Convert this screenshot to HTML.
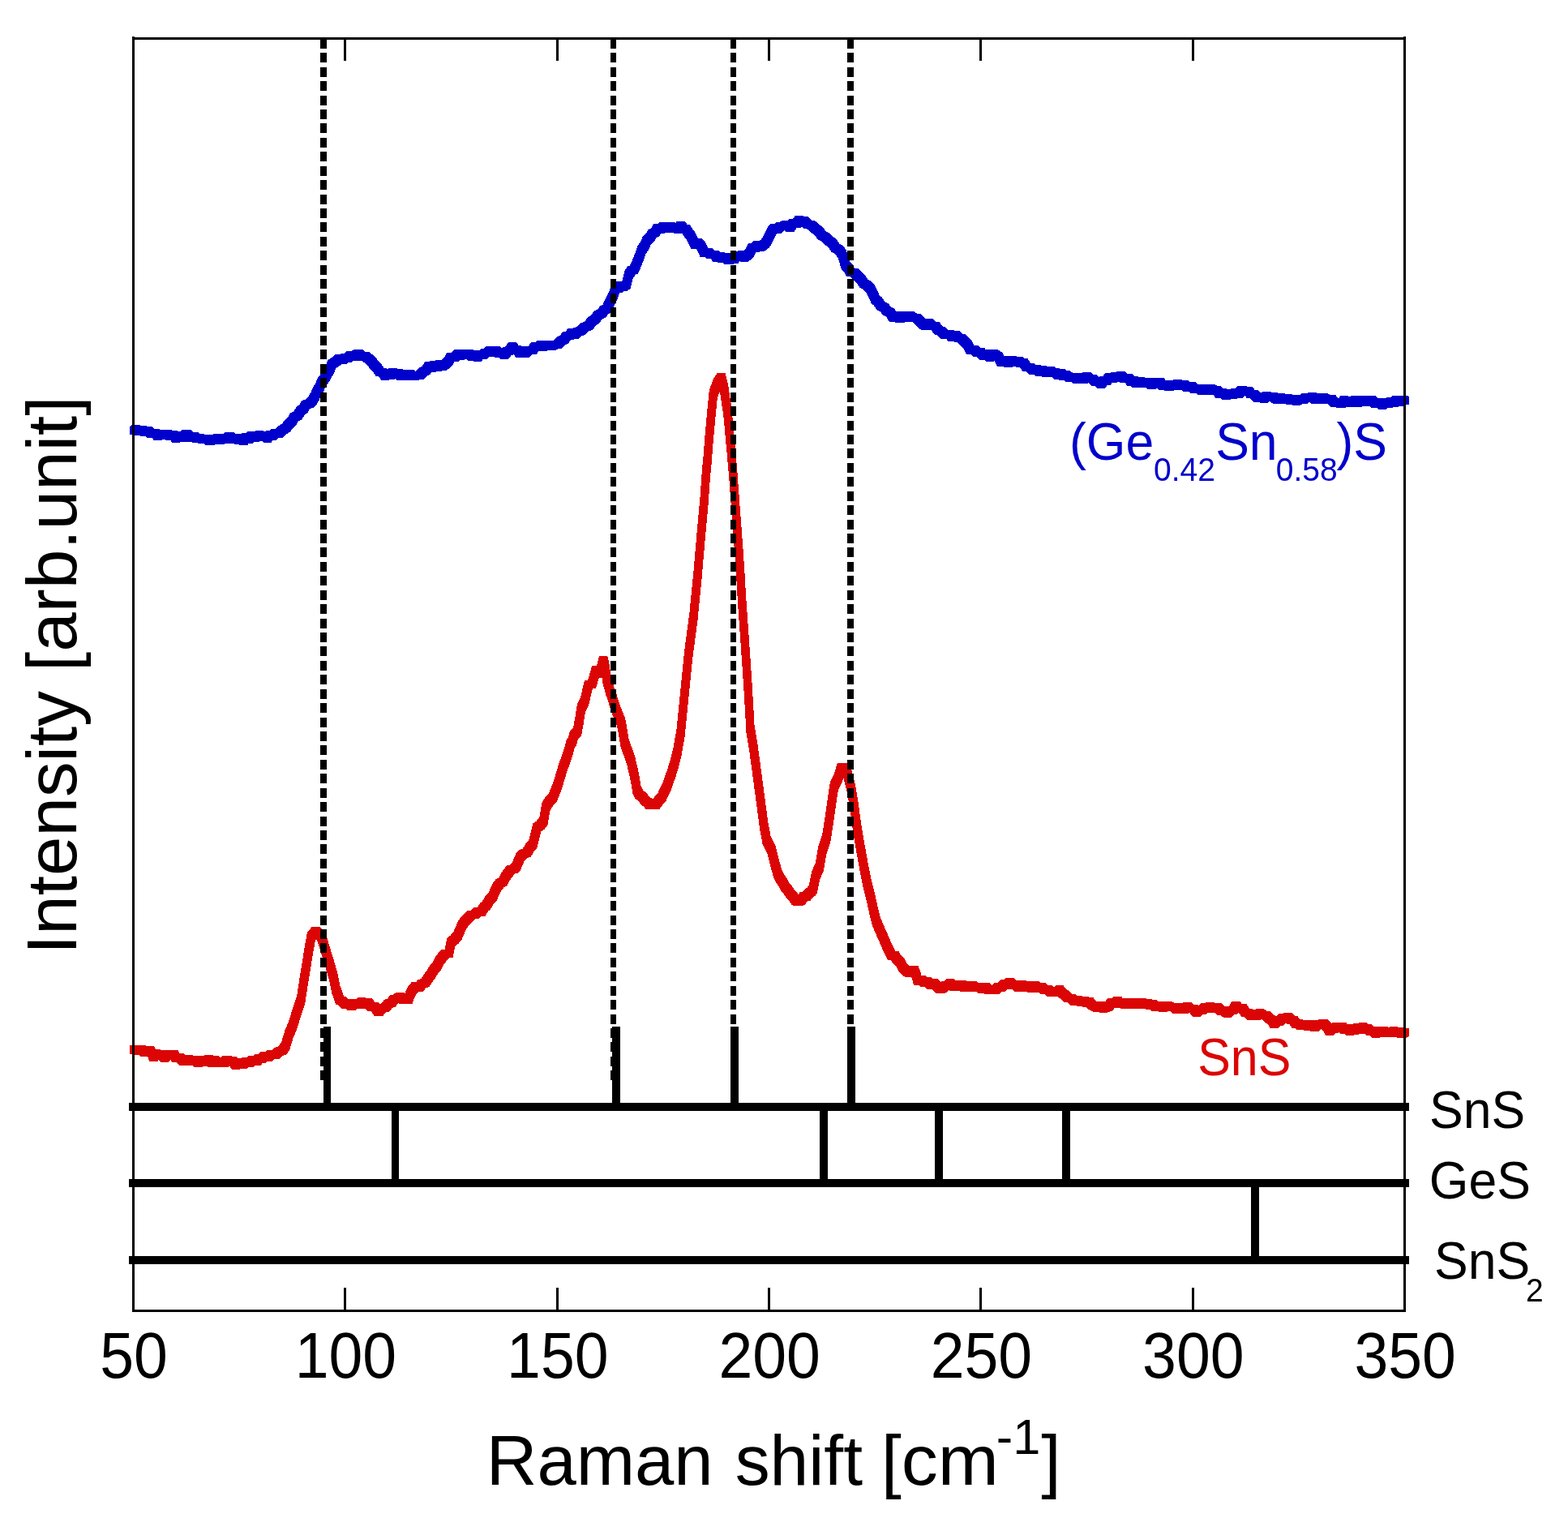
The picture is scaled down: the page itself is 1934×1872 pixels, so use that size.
<!DOCTYPE html>
<html lang="en"><head><meta charset="utf-8"><title>Raman spectra of SnS and (Ge,Sn)S</title>
<style>
html,body{margin:0;padding:0;background:#fff;}
body{width:1934px;height:1872px;overflow:hidden;}
svg{display:block;}
text{font-family:"Liberation Sans",sans-serif;}
</style></head><body>
<svg width="1934" height="1872" viewBox="0 0 1934 1872">
<rect x="0" y="0" width="1934" height="1872" fill="#fff"/>
<g shape-rendering="crispEdges">
<path d="M159.5 536.2L159.5 526.2L162.7 524.1L172.7 524.1L172.7 534.1L169.5 536.2ZM162.7 524.1L172.7 524.1L175.8 527.4L175.8 537.4L165.8 537.4L162.7 534.1ZM165.8 537.4L165.8 527.4L169.6 524.5L179.6 524.5L179.6 534.5L175.8 537.4ZM169.6 524.5L179.6 524.5L183.3 528.3L183.3 538.3L173.3 538.3L169.6 534.5ZM173.3 538.3L173.3 528.3L177.1 525.9L187.1 525.9L187.1 535.9L183.3 538.3ZM177.1 525.9L187.1 525.9L191.9 530.2L191.9 540.2L181.9 540.2L177.1 535.9ZM181.9 540.2L181.9 530.2L186.7 529.3L196.7 529.3L196.7 539.3L191.9 540.2ZM186.7 529.3L196.7 529.3L199.9 533.0L199.9 543.0L189.9 543.0L186.7 539.3ZM189.9 543.0L189.9 533.0L193.1 529.7L203.1 529.7L203.1 539.7L199.9 543.0ZM193.1 529.7L203.1 529.7L207.1 532.4L207.1 542.4L197.1 542.4L193.1 539.7ZM197.1 542.4L197.1 532.4L201.1 529.6L211.1 529.6L211.1 539.6L207.1 542.4ZM201.1 529.6L211.1 529.6L214.8 532.9L214.8 542.9L204.8 542.9L201.1 539.6ZM204.8 542.9L204.8 532.9L208.6 531.0L218.6 531.0L218.6 541.0L214.8 542.9ZM208.6 531.0L218.6 531.0L222.3 535.6L222.3 545.6L212.3 545.6L208.6 541.0ZM212.3 545.6L212.3 535.6L216.6 532.1L226.6 532.1L226.6 542.1L222.3 545.6ZM216.6 532.1L226.6 532.1L230.8 534.6L230.8 544.6L220.8 544.6L216.6 542.1ZM220.8 544.6L220.8 534.6L225.1 529.7L235.1 529.7L235.1 539.7L230.8 544.6ZM225.1 529.7L235.1 529.7L239.9 534.9L239.9 544.9L229.9 544.9L225.1 539.7ZM229.9 544.9L229.9 534.9L234.7 533.2L244.7 533.2L244.7 543.2L239.9 544.9ZM234.7 533.2L244.7 533.2L247.9 536.3L247.9 546.3L237.9 546.3L234.7 543.2ZM237.9 546.3L237.9 536.3L241.2 534.5L251.2 534.5L251.2 544.5L247.9 546.3ZM241.2 534.5L251.2 534.5L254.4 537.2L254.4 547.2L244.4 547.2L241.2 544.5ZM244.4 547.2L244.4 537.2L249.2 535.9L259.2 535.9L259.2 545.9L254.4 547.2ZM249.2 535.9L259.2 535.9L264.0 539.2L264.0 549.2L254.0 549.2L249.2 545.9ZM254.0 549.2L254.0 539.2L257.2 536.1L267.2 536.1L267.2 546.1L264.0 549.2ZM257.2 536.1L267.2 536.1L270.4 537.5L270.4 547.5L260.4 547.5L257.2 546.1ZM260.4 547.5L260.4 537.5L263.6 534.9L273.6 534.9L273.6 544.9L270.4 547.5ZM263.6 534.9L273.6 534.9L276.8 538.0L276.8 548.0L266.8 548.0L263.6 544.9ZM266.8 548.0L266.8 538.0L270.0 534.6L280.0 534.6L280.0 544.6L276.8 548.0ZM270.0 534.6L280.0 534.6L284.0 536.8L284.0 546.8L274.0 546.8L270.0 544.6ZM274.0 546.8L274.0 536.8L278.0 532.5L288.0 532.5L288.0 542.5L284.0 546.8ZM278.0 532.5L288.0 532.5L292.0 536.8L292.0 546.8L282.0 546.8L278.0 542.5ZM282.0 546.8L282.0 536.8L286.0 534.7L296.0 534.7L296.0 544.7L292.0 546.8ZM286.0 534.7L296.0 534.7L299.2 538.0L299.2 548.0L289.2 548.0L286.0 544.7ZM289.2 548.0L289.2 538.0L292.4 535.2L302.4 535.2L302.4 545.2L299.2 548.0ZM292.4 535.2L302.4 535.2L305.6 538.6L305.6 548.6L295.6 548.6L292.4 545.2ZM295.6 548.6L295.6 538.6L298.8 533.6L308.8 533.6L308.8 543.6L305.6 548.6ZM298.8 533.6L308.8 533.6L312.1 536.8L312.1 546.8L302.1 546.8L298.8 543.6ZM302.1 546.8L302.1 536.8L305.3 532.3L315.3 532.3L315.3 542.3L312.1 546.8ZM305.3 532.3L315.3 532.3L320.1 534.6L320.1 544.6L310.1 544.6L305.3 542.3ZM310.1 544.6L310.1 534.6L314.9 531.3L324.9 531.3L324.9 541.3L320.1 544.6ZM314.9 531.3L324.9 531.3L328.1 534.2L328.1 544.2L318.1 544.2L314.9 541.3ZM318.1 544.2L318.1 534.2L321.3 532.3L331.3 532.3L331.3 542.3L328.1 544.2ZM321.3 532.3L331.3 532.3L334.5 535.5L334.5 545.5L324.5 545.5L321.3 542.3ZM324.5 545.5L324.5 535.5L327.7 531.3L337.7 531.3L337.7 541.3L334.5 545.5ZM327.7 531.3L337.7 531.3L340.9 533.1L340.9 543.1L330.9 543.1L327.7 541.3ZM330.9 543.1L330.9 533.1L334.1 528.9L344.1 528.9L344.1 538.9L340.9 543.1ZM334.1 528.9L344.1 528.9L348.9 530.0L348.9 540.0L338.9 540.0L334.1 538.9ZM338.9 540.0L338.9 530.0L343.7 525.1L353.7 525.1L353.7 535.1L348.9 540.0ZM343.7 535.1L343.7 525.1L347.7 522.6L357.7 522.6L357.7 532.6L353.7 535.1ZM347.7 532.6L347.7 522.6L351.7 517.6L361.7 517.6L361.7 527.6L357.7 532.6ZM351.7 527.6L351.7 517.6L354.9 514.9L364.9 514.9L364.9 524.9L361.7 527.6ZM354.9 524.9L354.9 514.9L358.1 509.3L368.1 509.3L368.1 519.3L364.9 524.9ZM358.1 519.3L358.1 509.3L362.1 507.2L372.1 507.2L372.1 517.2L368.1 519.3ZM362.1 517.2L362.1 507.2L366.2 501.5L376.2 501.5L376.2 511.5L372.1 517.2ZM366.2 511.5L366.2 501.5L369.4 498.9L379.4 498.9L379.4 508.9L376.2 511.5ZM369.4 508.9L369.4 498.9L372.6 493.6L382.6 493.6L382.6 503.6L379.4 508.9ZM372.6 503.6L372.6 493.6L376.6 493.3L386.6 493.3L386.6 503.3L382.6 503.6ZM376.6 503.3L376.6 493.3L380.6 488.9L390.6 488.9L390.6 498.9L386.6 503.3ZM380.6 498.9L380.6 488.9L383.8 483.0L393.8 483.0L393.8 493.0L390.6 498.9ZM383.8 493.0L383.8 483.0L387.0 476.1L397.0 476.1L397.0 486.1L393.8 493.0ZM387.0 486.1L387.0 476.1L389.4 472.0L399.4 472.0L399.4 482.0L397.0 486.1ZM389.4 482.0L389.4 472.0L391.8 466.2L401.8 466.2L401.8 476.2L399.4 482.0ZM391.8 476.2L391.8 466.2L395.0 462.3L405.0 462.3L405.0 472.3L401.8 476.2ZM395.0 472.3L395.0 462.3L398.2 456.9L408.2 456.9L408.2 466.9L405.0 472.3ZM398.2 466.9L398.2 456.9L401.4 451.0L411.4 451.0L411.4 461.0L408.2 466.9ZM401.4 461.0L401.4 451.0L404.6 444.0L414.6 444.0L414.6 454.0L411.4 461.0ZM404.6 454.0L404.6 444.0L409.4 440.8L419.4 440.8L419.4 450.8L414.6 454.0ZM409.4 450.8L409.4 440.8L413.4 437.2L423.4 437.2L423.4 447.2L419.4 450.8ZM413.4 437.2L423.4 437.2L427.4 439.4L427.4 449.4L417.4 449.4L413.4 447.2ZM417.4 449.4L417.4 439.4L420.6 435.5L430.6 435.5L430.6 445.5L427.4 449.4ZM420.6 435.5L430.6 435.5L433.9 436.9L433.9 446.9L423.9 446.9L420.6 445.5ZM423.9 446.9L423.9 436.9L427.1 432.9L437.1 432.9L437.1 442.9L433.9 446.9ZM427.1 432.9L437.1 432.9L441.9 434.6L441.9 444.6L431.9 444.6L427.1 442.9ZM431.9 444.6L431.9 434.6L436.7 430.7L446.7 430.7L446.7 440.7L441.9 444.6ZM436.7 430.7L446.7 430.7L450.8 434.7L450.8 444.7L440.8 444.7L436.7 440.7ZM440.8 444.7L440.8 434.7L444.9 433.8L454.9 433.8L454.9 443.8L450.8 444.7ZM444.9 433.8L454.9 433.8L459.0 437.1L459.0 447.1L449.0 447.1L444.9 443.8ZM449.0 437.1L459.0 437.1L463.1 440.3L463.1 450.3L453.1 450.3L449.0 447.1ZM453.1 440.3L463.1 440.3L467.1 446.2L467.1 456.2L457.1 456.2L453.1 450.3ZM457.1 446.2L467.1 446.2L470.3 448.5L470.3 458.5L460.3 458.5L457.1 456.2ZM460.3 448.5L470.3 448.5L473.5 454.3L473.5 464.3L463.5 464.3L460.3 458.5ZM463.5 464.3L463.5 454.3L466.7 453.8L476.7 453.8L476.7 463.8L473.5 464.3ZM466.7 453.8L476.7 453.8L479.9 458.5L479.9 468.5L469.9 468.5L466.7 463.8ZM469.9 468.5L469.9 458.5L473.1 455.3L483.1 455.3L483.1 465.3L479.9 468.5ZM473.1 455.3L483.1 455.3L486.3 458.2L486.3 468.2L476.3 468.2L473.1 465.3ZM476.3 468.2L476.3 458.2L479.5 454.0L489.5 454.0L489.5 464.0L486.3 468.2ZM479.5 454.0L489.5 454.0L492.7 457.3L492.7 467.3L482.7 467.3L479.5 464.0ZM482.7 467.3L482.7 457.3L485.9 454.6L495.9 454.6L495.9 464.6L492.7 467.3ZM485.9 454.6L495.9 454.6L499.1 458.5L499.1 468.5L489.1 468.5L485.9 464.6ZM489.1 468.5L489.1 458.5L492.8 456.0L502.8 456.0L502.8 466.0L499.1 468.5ZM492.8 456.0L502.8 456.0L506.6 459.2L506.6 469.2L496.6 469.2L492.8 466.0ZM496.6 469.2L496.6 459.2L500.3 456.0L510.3 456.0L510.3 466.0L506.6 469.2ZM500.3 456.0L510.3 456.0L514.3 459.4L514.3 469.4L504.3 469.4L500.3 466.0ZM504.3 469.4L504.3 459.4L508.3 458.1L518.3 458.1L518.3 468.1L514.3 469.4ZM508.3 468.1L508.3 458.1L512.3 457.8L522.3 457.8L522.3 467.8L518.3 468.1ZM512.3 467.8L512.3 457.8L516.3 453.9L526.3 453.9L526.3 463.9L522.3 467.8ZM516.3 463.9L516.3 453.9L520.3 452.0L530.3 452.0L530.3 462.0L526.3 463.9ZM520.3 462.0L520.3 452.0L524.4 446.0L534.4 446.0L534.4 456.0L530.3 462.0ZM524.4 446.0L534.4 446.0L537.6 448.6L537.6 458.6L527.6 458.6L524.4 456.0ZM527.6 458.6L527.6 448.6L530.8 445.1L540.8 445.1L540.8 455.1L537.6 458.6ZM530.8 445.1L540.8 445.1L544.0 448.3L544.0 458.3L534.0 458.3L530.8 455.1ZM534.0 458.3L534.0 448.3L537.2 444.3L547.2 444.3L547.2 454.3L544.0 458.3ZM537.2 444.3L547.2 444.3L550.4 447.3L550.4 457.3L540.4 457.3L537.2 454.3ZM540.4 457.3L540.4 447.3L543.6 444.5L553.6 444.5L553.6 454.5L550.4 457.3ZM543.6 454.5L543.6 444.5L547.6 441.0L557.6 441.0L557.6 451.0L553.6 454.5ZM547.6 451.0L547.6 441.0L551.6 434.6L561.6 434.6L561.6 444.6L557.6 451.0ZM551.6 434.6L561.6 434.6L565.6 436.4L565.6 446.4L555.6 446.4L551.6 444.6ZM555.6 446.4L555.6 436.4L559.6 431.4L569.6 431.4L569.6 441.4L565.6 446.4ZM559.6 431.4L569.6 431.4L572.8 433.7L572.8 443.7L562.8 443.7L559.6 441.4ZM562.8 443.7L562.8 433.7L566.0 430.6L576.0 430.6L576.0 440.6L572.8 443.7ZM566.0 430.6L576.0 430.6L579.2 432.5L579.2 442.5L569.2 442.5L566.0 440.6ZM569.2 442.5L569.2 432.5L573.2 430.6L583.2 430.6L583.2 440.6L579.2 442.5ZM573.2 430.6L583.2 430.6L587.2 435.3L587.2 445.3L577.2 445.3L573.2 440.6ZM577.2 445.3L577.2 435.3L580.4 431.7L590.4 431.7L590.4 441.7L587.2 445.3ZM580.4 431.7L590.4 431.7L593.7 435.6L593.7 445.6L583.7 445.6L580.4 441.7ZM583.7 445.6L583.7 435.6L586.9 431.8L596.9 431.8L596.9 441.8L593.7 445.6ZM586.9 431.8L596.9 431.8L600.1 433.2L600.1 443.2L590.1 443.2L586.9 441.8ZM590.1 443.2L590.1 433.2L593.3 429.7L603.3 429.7L603.3 439.7L600.1 443.2ZM593.3 429.7L603.3 429.7L606.5 430.3L606.5 440.3L596.5 440.3L593.3 439.7ZM596.5 440.3L596.5 430.3L599.7 426.9L609.7 426.9L609.7 436.9L606.5 440.3ZM599.7 426.9L609.7 426.9L612.9 430.0L612.9 440.0L602.9 440.0L599.7 436.9ZM602.9 440.0L602.9 430.0L606.1 426.8L616.1 426.8L616.1 436.8L612.9 440.0ZM606.1 426.8L616.1 426.8L619.8 430.8L619.8 440.8L609.8 440.8L606.1 436.8ZM609.8 440.8L609.8 430.8L613.6 428.8L623.6 428.8L623.6 438.8L619.8 440.8ZM613.6 428.8L623.6 428.8L627.3 432.7L627.3 442.7L617.3 442.7L613.6 438.8ZM617.3 442.7L617.3 432.7L620.5 428.2L630.5 428.2L630.5 438.2L627.3 442.7ZM620.5 438.2L620.5 428.2L623.7 427.1L633.7 427.1L633.7 437.1L630.5 438.2ZM623.7 437.1L623.7 427.1L626.9 422.3L636.9 422.3L636.9 432.3L633.7 437.1ZM626.9 422.3L636.9 422.3L640.1 426.3L640.1 436.3L630.1 436.3L626.9 432.3ZM630.1 426.3L640.1 426.3L643.3 426.5L643.3 436.5L633.3 436.5L630.1 436.3ZM633.3 426.5L643.3 426.5L646.5 431.0L646.5 441.0L636.5 441.0L633.3 436.5ZM636.5 441.0L636.5 431.0L639.7 427.0L649.7 427.0L649.7 437.0L646.5 441.0ZM639.7 427.0L649.7 427.0L653.0 430.5L653.0 440.5L643.0 440.5L639.7 437.0ZM643.0 440.5L643.0 430.5L646.2 427.5L656.2 427.5L656.2 437.5L653.0 440.5ZM646.2 437.5L646.2 427.5L651.0 427.3L661.0 427.3L661.0 437.3L656.2 437.5ZM651.0 437.3L651.0 427.3L655.8 421.7L665.8 421.7L665.8 431.7L661.0 437.3ZM655.8 421.7L665.8 421.7L669.0 423.2L669.0 433.2L659.0 433.2L655.8 431.7ZM659.0 433.2L659.0 423.2L662.2 420.4L672.2 420.4L672.2 430.4L669.0 433.2ZM662.2 420.4L672.2 420.4L675.4 422.5L675.4 432.5L665.4 432.5L662.2 430.4ZM665.4 432.5L665.4 422.5L669.7 420.1L679.7 420.1L679.7 430.1L675.4 432.5ZM669.7 420.1L679.7 420.1L683.9 422.4L683.9 432.4L673.9 432.4L669.7 430.1ZM673.9 432.4L673.9 422.4L678.2 420.2L688.2 420.2L688.2 430.2L683.9 432.4ZM678.2 430.2L678.2 420.2L683.0 419.8L693.0 419.8L693.0 429.8L688.2 430.2ZM683.0 429.8L683.0 419.8L687.8 415.1L697.8 415.1L697.8 425.1L693.0 429.8ZM687.8 425.1L687.8 415.1L691.0 413.5L701.0 413.5L701.0 423.5L697.8 425.1ZM691.0 423.5L691.0 413.5L694.2 408.7L704.2 408.7L704.2 418.7L701.0 423.5ZM694.2 408.7L704.2 408.7L707.4 409.1L707.4 419.1L697.4 419.1L694.2 418.7ZM697.4 419.1L697.4 409.1L700.6 404.6L710.6 404.6L710.6 414.6L707.4 419.1ZM700.6 404.6L710.6 404.6L713.9 407.6L713.9 417.6L703.9 417.6L700.6 414.6ZM703.9 417.6L703.9 407.6L707.1 404.1L717.1 404.1L717.1 414.1L713.9 417.6ZM707.1 414.1L707.1 404.1L711.7 403.1L721.7 403.1L721.7 413.1L717.1 414.1ZM711.7 413.1L711.7 403.1L716.4 398.5L726.4 398.5L726.4 408.5L721.7 413.1ZM716.4 408.5L716.4 398.5L721.0 396.7L731.0 396.7L731.0 406.7L726.4 408.5ZM721.0 406.7L721.0 396.7L725.0 391.1L735.0 391.1L735.0 401.1L731.0 406.7ZM725.0 401.1L725.0 391.1L729.0 389.1L739.0 389.1L739.0 399.1L735.0 401.1ZM729.0 399.1L729.0 389.1L733.0 383.3L743.0 383.3L743.0 393.3L739.0 399.1ZM733.0 393.3L733.0 383.3L737.1 381.5L747.1 381.5L747.1 391.5L743.0 393.3ZM737.1 391.5L737.1 381.5L740.3 377.1L750.3 377.1L750.3 387.1L747.1 391.5ZM740.3 387.1L740.3 377.1L743.5 375.6L753.5 375.6L753.5 385.6L750.3 387.1ZM743.5 385.6L743.5 375.6L748.3 365.4L758.3 365.4L758.3 375.4L753.5 385.6ZM748.3 375.4L748.3 365.4L751.5 358.7L761.5 358.7L761.5 368.7L758.3 375.4ZM751.5 368.7L751.5 358.7L754.7 349.5L764.7 349.5L764.7 359.5L761.5 368.7ZM754.7 349.5L764.7 349.5L767.9 350.5L767.9 360.5L757.9 360.5L754.7 359.5ZM757.9 360.5L757.9 350.5L761.1 346.6L771.1 346.6L771.1 356.6L767.9 360.5ZM761.1 346.6L771.1 346.6L774.3 348.6L774.3 358.6L764.3 358.6L761.1 356.6ZM764.3 358.6L764.3 348.6L767.5 345.6L777.5 345.6L777.5 355.6L774.3 358.6ZM767.5 355.6L767.5 345.6L770.7 333.3L780.7 333.3L780.7 343.3L777.5 355.6ZM770.7 343.3L770.7 333.3L773.9 328.5L783.9 328.5L783.9 338.5L780.7 343.3ZM773.9 338.5L773.9 328.5L777.1 327.5L787.1 327.5L787.1 337.5L783.9 338.5ZM777.1 337.5L777.1 327.5L781.9 315.7L791.9 315.7L791.9 325.7L787.1 337.5ZM781.9 325.7L781.9 315.7L784.3 309.8L794.3 309.8L794.3 319.8L791.9 325.7ZM784.3 319.8L784.3 309.8L786.7 302.7L796.7 302.7L796.7 312.7L794.3 319.8ZM786.7 312.7L786.7 302.7L789.9 298.1L799.9 298.1L799.9 308.1L796.7 312.7ZM789.9 308.1L789.9 298.1L793.1 291.2L803.1 291.2L803.1 301.2L799.9 308.1ZM793.1 301.2L793.1 291.2L796.4 288.6L806.4 288.6L806.4 298.6L803.1 301.2ZM796.4 298.6L796.4 288.6L799.6 283.0L809.6 283.0L809.6 293.0L806.4 298.6ZM799.6 293.0L799.6 283.0L802.8 281.8L812.8 281.8L812.8 291.8L809.6 293.0ZM802.8 291.8L802.8 281.8L806.0 276.0L816.0 276.0L816.0 286.0L812.8 291.8ZM806.0 276.0L816.0 276.0L820.0 278.0L820.0 288.0L810.0 288.0L806.0 286.0ZM810.0 288.0L810.0 278.0L814.0 273.8L824.0 273.8L824.0 283.8L820.0 288.0ZM814.0 273.8L824.0 273.8L828.0 276.9L828.0 286.9L818.0 286.9L814.0 283.8ZM818.0 286.9L818.0 276.9L822.0 273.7L832.0 273.7L832.0 283.7L828.0 286.9ZM822.0 273.7L832.0 273.7L835.2 277.3L835.2 287.3L825.2 287.3L822.0 283.7ZM825.2 287.3L825.2 277.3L828.4 276.2L838.4 276.2L838.4 286.2L835.2 287.3ZM828.4 276.2L838.4 276.2L841.6 277.8L841.6 287.8L831.6 287.8L828.4 286.2ZM831.6 287.8L831.6 277.8L834.8 272.7L844.8 272.7L844.8 282.7L841.6 287.8ZM834.8 272.7L844.8 272.7L848.0 277.5L848.0 287.5L838.0 287.5L834.8 282.7ZM838.0 287.5L838.0 277.5L841.2 277.2L851.2 277.2L851.2 287.2L848.0 287.5ZM841.2 277.2L851.2 277.2L854.4 283.0L854.4 293.0L844.4 293.0L841.2 287.2ZM844.4 283.0L854.4 283.0L857.6 286.7L857.6 296.7L847.6 296.7L844.4 293.0ZM847.6 286.7L857.6 286.7L862.4 296.6L862.4 306.6L852.4 306.6L847.6 296.7ZM852.4 306.6L852.4 296.6L855.6 294.1L865.6 294.1L865.6 304.1L862.4 306.6ZM855.6 294.1L865.6 294.1L868.8 297.0L868.8 307.0L858.8 307.0L855.6 304.1ZM858.8 297.0L868.8 297.0L871.2 301.2L871.2 311.2L861.2 311.2L858.8 307.0ZM861.2 301.2L871.2 301.2L873.7 307.4L873.7 317.4L863.7 317.4L861.2 311.2ZM863.7 317.4L863.7 307.4L867.7 305.5L877.7 305.5L877.7 315.5L873.7 317.4ZM867.7 305.5L877.7 305.5L881.7 309.4L881.7 319.4L871.7 319.4L867.7 315.5ZM871.7 319.4L871.7 309.4L875.7 308.5L885.7 308.5L885.7 318.5L881.7 319.4ZM875.7 308.5L885.7 308.5L889.7 312.9L889.7 322.9L879.7 322.9L875.7 318.5ZM879.7 322.9L879.7 312.9L882.9 310.5L892.9 310.5L892.9 320.5L889.7 322.9ZM882.9 310.5L892.9 310.5L896.1 314.4L896.1 324.4L886.1 324.4L882.9 320.5ZM886.1 324.4L886.1 314.4L890.1 312.0L900.1 312.0L900.1 322.0L896.1 324.4ZM890.1 312.0L900.1 312.0L904.1 316.4L904.1 326.4L894.1 326.4L890.1 322.0ZM894.1 326.4L894.1 316.4L897.3 313.5L907.3 313.5L907.3 323.5L904.1 326.4ZM897.3 313.5L907.3 313.5L910.5 314.7L910.5 324.7L900.5 324.7L897.3 323.5ZM900.5 324.7L900.5 314.7L903.7 310.5L913.7 310.5L913.7 320.5L910.5 324.7ZM903.7 310.5L913.7 310.5L916.9 311.6L916.9 321.6L906.9 321.6L903.7 320.5ZM906.9 321.6L906.9 311.6L910.1 309.2L920.1 309.2L920.1 319.2L916.9 321.6ZM910.1 309.2L920.1 309.2L923.3 312.5L923.3 322.5L913.3 322.5L910.1 319.2ZM913.3 322.5L913.3 312.5L916.5 309.8L926.5 309.8L926.5 319.8L923.3 322.5ZM916.5 319.8L916.5 309.8L919.7 306.5L929.7 306.5L929.7 316.5L926.5 319.8ZM919.7 316.5L919.7 306.5L922.9 299.9L932.9 299.9L932.9 309.9L929.7 316.5ZM922.9 299.9L932.9 299.9L936.1 301.1L936.1 311.1L926.1 311.1L922.9 309.9ZM926.1 311.1L926.1 301.1L929.4 296.6L939.4 296.6L939.4 306.6L936.1 311.1ZM929.4 296.6L939.4 296.6L942.6 299.6L942.6 309.6L932.6 309.6L929.4 306.6ZM932.6 309.6L932.6 299.6L935.8 297.8L945.8 297.8L945.8 307.8L942.6 309.6ZM935.8 307.8L935.8 297.8L939.0 295.2L949.0 295.2L949.0 305.2L945.8 307.8ZM939.0 305.2L939.0 295.2L942.2 290.1L952.2 290.1L952.2 300.1L949.0 305.2ZM942.2 300.1L942.2 290.1L947.0 279.7L957.0 279.7L957.0 289.7L952.2 300.1ZM947.0 289.7L947.0 279.7L950.2 275.8L960.2 275.8L960.2 285.8L957.0 289.7ZM950.2 275.8L960.2 275.8L963.4 278.2L963.4 288.2L953.4 288.2L950.2 285.8ZM953.4 288.2L953.4 278.2L957.4 273.7L967.4 273.7L967.4 283.7L963.4 288.2ZM957.4 273.7L967.4 273.7L971.4 273.9L971.4 283.9L961.4 283.9L957.4 283.7ZM961.4 283.9L961.4 273.9L965.4 272.1L975.4 272.1L975.4 282.1L971.4 283.9ZM965.4 272.1L975.4 272.1L979.4 275.8L979.4 285.8L969.4 285.8L965.4 282.1ZM969.4 285.8L969.4 275.8L973.4 270.2L983.4 270.2L983.4 280.2L979.4 285.8ZM973.4 270.2L983.4 270.2L987.4 270.7L987.4 280.7L977.4 280.7L973.4 280.2ZM977.4 280.7L977.4 270.7L980.6 266.3L990.6 266.3L990.6 276.3L987.4 280.7ZM980.6 266.3L990.6 266.3L993.9 269.5L993.9 279.5L983.9 279.5L980.6 276.3ZM983.9 279.5L983.9 269.5L987.1 267.1L997.1 267.1L997.1 277.1L993.9 279.5ZM987.1 267.1L997.1 267.1L1001.7 271.9L1001.7 281.9L991.7 281.9L987.1 277.1ZM991.7 271.9L1001.7 271.9L1006.4 272.8L1006.4 282.8L996.4 282.8L991.7 281.9ZM996.4 272.8L1006.4 272.8L1011.0 277.3L1011.0 287.3L1001.0 287.3L996.4 282.8ZM1001.0 277.3L1011.0 277.3L1015.0 280.0L1015.0 290.0L1005.0 290.0L1001.0 287.3ZM1005.0 280.0L1015.0 280.0L1019.0 285.8L1019.0 295.8L1009.0 295.8L1005.0 290.0ZM1009.0 285.8L1019.0 285.8L1023.0 287.0L1023.0 297.0L1013.0 297.0L1009.0 295.8ZM1013.0 287.0L1023.0 287.0L1027.1 291.9L1027.1 301.9L1017.1 301.9L1013.0 297.0ZM1017.1 291.9L1027.1 291.9L1031.1 294.2L1031.1 304.2L1021.1 304.2L1017.1 301.9ZM1021.1 294.2L1031.1 294.2L1035.1 300.3L1035.1 310.3L1025.1 310.3L1021.1 304.2ZM1025.1 300.3L1035.1 300.3L1039.1 302.4L1039.1 312.4L1029.1 312.4L1025.1 310.3ZM1029.1 302.4L1039.1 302.4L1043.1 307.3L1043.1 317.3L1033.1 317.3L1029.1 312.4ZM1033.1 307.3L1043.1 307.3L1045.5 314.3L1045.5 324.3L1035.5 324.3L1033.1 317.3ZM1035.5 314.3L1045.5 314.3L1047.9 322.4L1047.9 332.4L1037.9 332.4L1035.5 324.3ZM1037.9 322.4L1047.9 322.4L1051.1 325.2L1051.1 335.2L1041.1 335.2L1037.9 332.4ZM1041.1 325.2L1051.1 325.2L1054.3 331.0L1054.3 341.0L1044.3 341.0L1041.1 335.2ZM1044.3 341.0L1044.3 331.0L1048.3 330.8L1058.3 330.8L1058.3 340.8L1054.3 341.0ZM1048.3 330.8L1058.3 330.8L1062.3 335.0L1062.3 345.0L1052.3 345.0L1048.3 340.8ZM1052.3 335.0L1062.3 335.0L1066.3 338.4L1066.3 348.4L1056.3 348.4L1052.3 345.0ZM1056.3 338.4L1066.3 338.4L1070.3 344.6L1070.3 354.6L1060.3 354.6L1056.3 348.4ZM1060.3 344.6L1070.3 344.6L1074.3 346.5L1074.3 356.5L1064.3 356.5L1060.3 354.6ZM1064.3 346.5L1074.3 346.5L1078.3 350.7L1078.3 360.7L1068.3 360.7L1064.3 356.5ZM1068.3 350.7L1078.3 350.7L1081.5 356.7L1081.5 366.7L1071.5 366.7L1068.3 360.7ZM1071.5 356.7L1081.5 356.7L1084.7 364.1L1084.7 374.1L1074.7 374.1L1071.5 366.7ZM1074.7 364.1L1084.7 364.1L1088.0 366.8L1088.0 376.8L1078.0 376.8L1074.7 374.1ZM1078.0 366.8L1088.0 366.8L1091.2 372.0L1091.2 382.0L1081.2 382.0L1078.0 376.8ZM1081.2 372.0L1091.2 372.0L1095.2 373.9L1095.2 383.9L1085.2 383.9L1081.2 382.0ZM1085.2 373.9L1095.2 373.9L1099.2 378.6L1099.2 388.6L1089.2 388.6L1085.2 383.9ZM1089.2 378.6L1099.2 378.6L1103.2 380.9L1103.2 390.9L1093.2 390.9L1089.2 388.6ZM1093.2 380.9L1103.2 380.9L1107.2 387.4L1107.2 397.4L1097.2 397.4L1093.2 390.9ZM1097.2 397.4L1097.2 387.4L1101.2 384.3L1111.2 384.3L1111.2 394.3L1107.2 397.4ZM1101.2 384.3L1111.2 384.3L1115.2 388.4L1115.2 398.4L1105.2 398.4L1101.2 394.3ZM1105.2 398.4L1105.2 388.4L1109.2 383.6L1119.2 383.6L1119.2 393.6L1115.2 398.4ZM1109.2 383.6L1119.2 383.6L1123.2 386.7L1123.2 396.7L1113.2 396.7L1109.2 393.6ZM1113.2 396.7L1113.2 386.7L1117.2 384.1L1127.2 384.1L1127.2 394.1L1123.2 396.7ZM1117.2 384.1L1127.2 384.1L1131.2 386.9L1131.2 396.9L1121.2 396.9L1117.2 394.1ZM1121.2 386.9L1131.2 386.9L1135.2 387.2L1135.2 397.2L1125.2 397.2L1121.2 396.9ZM1125.2 387.2L1135.2 387.2L1139.2 390.9L1139.2 400.9L1129.2 400.9L1125.2 397.2ZM1129.2 390.9L1139.2 390.9L1144.0 395.6L1144.0 405.6L1134.0 405.6L1129.2 400.9ZM1134.0 395.6L1144.0 395.6L1147.2 396.8L1147.2 406.8L1137.2 406.8L1134.0 405.6ZM1137.2 406.8L1137.2 396.8L1140.4 392.7L1150.4 392.7L1150.4 402.7L1147.2 406.8ZM1140.4 392.7L1150.4 392.7L1154.5 396.8L1154.5 406.8L1144.5 406.8L1140.4 402.7ZM1144.5 396.8L1154.5 396.8L1158.5 396.9L1158.5 406.9L1148.5 406.9L1144.5 406.8ZM1148.5 396.9L1158.5 396.9L1162.5 402.3L1162.5 412.3L1152.5 412.3L1148.5 406.9ZM1152.5 402.3L1162.5 402.3L1166.5 403.5L1166.5 413.5L1156.5 413.5L1152.5 412.3ZM1156.5 403.5L1166.5 403.5L1171.3 408.4L1171.3 418.4L1161.3 418.4L1156.5 413.5ZM1161.3 418.4L1161.3 408.4L1166.1 407.0L1176.1 407.0L1176.1 417.0L1171.3 418.4ZM1166.1 407.0L1176.1 407.0L1179.8 410.9L1179.8 420.9L1169.8 420.9L1166.1 417.0ZM1169.8 420.9L1169.8 410.9L1173.6 408.0L1183.6 408.0L1183.6 418.0L1179.8 420.9ZM1173.6 408.0L1183.6 408.0L1187.3 411.9L1187.3 421.9L1177.3 421.9L1173.6 418.0ZM1177.3 411.9L1187.3 411.9L1191.3 412.6L1191.3 422.6L1181.3 422.6L1177.3 421.9ZM1181.3 412.6L1191.3 412.6L1195.3 416.9L1195.3 426.9L1185.3 426.9L1181.3 422.6ZM1185.3 416.9L1195.3 416.9L1198.5 420.4L1198.5 430.4L1188.5 430.4L1185.3 426.9ZM1188.5 420.4L1198.5 420.4L1201.7 426.8L1201.7 436.8L1191.7 436.8L1188.5 430.4ZM1191.7 436.8L1191.7 426.8L1195.7 425.6L1205.7 425.6L1205.7 435.6L1201.7 436.8ZM1195.7 425.6L1205.7 425.6L1209.7 429.6L1209.7 439.6L1199.7 439.6L1195.7 435.6ZM1199.7 439.6L1199.7 429.6L1203.8 428.5L1213.8 428.5L1213.8 438.5L1209.7 439.6ZM1203.8 428.5L1213.8 428.5L1217.8 433.6L1217.8 443.6L1207.8 443.6L1203.8 438.5ZM1207.8 443.6L1207.8 433.6L1211.8 431.4L1221.8 431.4L1221.8 441.4L1217.8 443.6ZM1211.8 431.4L1221.8 431.4L1225.8 435.8L1225.8 445.8L1215.8 445.8L1211.8 441.4ZM1215.8 445.8L1215.8 435.8L1219.8 431.1L1229.8 431.1L1229.8 441.1L1225.8 445.8ZM1219.8 431.1L1229.8 431.1L1233.8 433.0L1233.8 443.0L1223.8 443.0L1219.8 441.1ZM1223.8 433.0L1233.8 433.0L1237.0 435.6L1237.0 445.6L1227.0 445.6L1223.8 443.0ZM1227.0 435.6L1237.0 435.6L1240.2 442.0L1240.2 452.0L1230.2 452.0L1227.0 445.6ZM1230.2 452.0L1230.2 442.0L1234.2 439.4L1244.2 439.4L1244.2 449.4L1240.2 452.0ZM1234.2 439.4L1244.2 439.4L1248.2 442.9L1248.2 452.9L1238.2 452.9L1234.2 449.4ZM1238.2 452.9L1238.2 442.9L1243.0 438.6L1253.0 438.6L1253.0 448.6L1248.2 452.9ZM1243.0 438.6L1253.0 438.6L1257.8 441.8L1257.8 451.8L1247.8 451.8L1243.0 448.6ZM1247.8 451.8L1247.8 441.8L1251.0 439.6L1261.0 439.6L1261.0 449.6L1257.8 451.8ZM1251.0 439.6L1261.0 439.6L1264.2 443.4L1264.2 453.4L1254.2 453.4L1251.0 449.6ZM1254.2 453.4L1254.2 443.4L1257.4 442.1L1267.4 442.1L1267.4 452.1L1264.2 453.4ZM1257.4 442.1L1267.4 442.1L1271.4 448.0L1271.4 458.0L1261.4 458.0L1257.4 452.1ZM1261.4 458.0L1261.4 448.0L1265.4 447.7L1275.4 447.7L1275.4 457.7L1271.4 458.0ZM1265.4 447.7L1275.4 447.7L1279.5 452.2L1279.5 462.2L1269.5 462.2L1265.4 457.7ZM1269.5 462.2L1269.5 452.2L1273.5 449.5L1283.5 449.5L1283.5 459.5L1279.5 462.2ZM1273.5 449.5L1283.5 449.5L1287.2 453.6L1287.2 463.6L1277.2 463.6L1273.5 459.5ZM1277.2 463.6L1277.2 453.6L1281.0 451.1L1291.0 451.1L1291.0 461.1L1287.2 463.6ZM1281.0 451.1L1291.0 451.1L1295.8 455.3L1295.8 465.3L1285.8 465.3L1281.0 461.1ZM1285.8 465.3L1285.8 455.3L1290.6 451.9L1300.6 451.9L1300.6 461.9L1295.8 465.3ZM1290.6 451.9L1300.6 451.9L1303.8 455.2L1303.8 465.2L1293.8 465.2L1290.6 461.9ZM1293.8 465.2L1293.8 455.2L1297.1 454.0L1307.1 454.0L1307.1 464.0L1303.8 465.2ZM1297.1 454.0L1307.1 454.0L1310.3 458.0L1310.3 468.0L1300.3 468.0L1297.1 464.0ZM1300.3 468.0L1300.3 458.0L1303.5 455.0L1313.5 455.0L1313.5 465.0L1310.3 468.0ZM1303.5 455.0L1313.5 455.0L1316.7 459.0L1316.7 469.0L1306.7 469.0L1303.5 465.0ZM1306.7 469.0L1306.7 459.0L1309.9 457.1L1319.9 457.1L1319.9 467.1L1316.7 469.0ZM1309.9 457.1L1319.9 457.1L1324.7 461.4L1324.7 471.4L1314.7 471.4L1309.9 467.1ZM1314.7 471.4L1314.7 461.4L1319.5 460.2L1329.5 460.2L1329.5 470.2L1324.7 471.4ZM1319.5 460.2L1329.5 460.2L1334.3 463.2L1334.3 473.2L1324.3 473.2L1319.5 470.2ZM1324.3 473.2L1324.3 463.2L1329.1 460.0L1339.1 460.0L1339.1 470.0L1334.3 473.2ZM1329.1 460.0L1339.1 460.0L1342.3 462.6L1342.3 472.6L1332.3 472.6L1329.1 470.0ZM1332.3 472.6L1332.3 462.6L1335.5 459.2L1345.5 459.2L1345.5 469.2L1342.3 472.6ZM1335.5 459.2L1345.5 459.2L1348.7 462.2L1348.7 472.2L1338.7 472.2L1335.5 469.2ZM1338.7 472.2L1338.7 462.2L1342.7 461.8L1352.7 461.8L1352.7 471.8L1348.7 472.2ZM1342.7 461.8L1352.7 461.8L1356.7 465.7L1356.7 475.7L1346.7 475.7L1342.7 471.8ZM1346.7 475.7L1346.7 465.7L1349.9 464.5L1359.9 464.5L1359.9 474.5L1356.7 475.7ZM1349.9 464.5L1359.9 464.5L1363.1 468.9L1363.1 478.9L1353.1 478.9L1349.9 474.5ZM1353.1 478.9L1353.1 468.9L1356.3 464.0L1366.3 464.0L1366.3 474.0L1363.1 478.9ZM1356.3 464.0L1366.3 464.0L1369.6 464.7L1369.6 474.7L1359.6 474.7L1356.3 474.0ZM1359.6 474.7L1359.6 464.7L1363.6 459.8L1373.6 459.8L1373.6 469.8L1369.6 474.7ZM1363.6 459.8L1373.6 459.8L1377.6 461.8L1377.6 471.8L1367.6 471.8L1363.6 469.8ZM1367.6 471.8L1367.6 461.8L1370.8 458.5L1380.8 458.5L1380.8 468.5L1377.6 471.8ZM1370.8 458.5L1380.8 458.5L1384.0 460.8L1384.0 470.8L1374.0 470.8L1370.8 468.5ZM1374.0 470.8L1374.0 460.8L1377.2 458.1L1387.2 458.1L1387.2 468.1L1384.0 470.8ZM1377.2 458.1L1387.2 458.1L1392.0 462.4L1392.0 472.4L1382.0 472.4L1377.2 468.1ZM1382.0 472.4L1382.0 462.4L1386.8 461.1L1396.8 461.1L1396.8 471.1L1392.0 472.4ZM1386.8 461.1L1396.8 461.1L1400.0 465.5L1400.0 475.5L1390.0 475.5L1386.8 471.1ZM1390.0 475.5L1390.0 465.5L1393.2 463.5L1403.2 463.5L1403.2 473.5L1400.0 475.5ZM1393.2 463.5L1403.2 463.5L1406.4 468.0L1406.4 478.0L1396.4 478.0L1393.2 473.5ZM1396.4 478.0L1396.4 468.0L1401.2 464.7L1411.2 464.7L1411.2 474.7L1406.4 478.0ZM1401.2 464.7L1411.2 464.7L1416.0 468.1L1416.0 478.1L1406.0 478.1L1401.2 474.7ZM1406.0 478.1L1406.0 468.1L1410.8 465.8L1420.8 465.8L1420.8 475.8L1416.0 478.1ZM1410.8 465.8L1420.8 465.8L1425.6 469.6L1425.6 479.6L1415.6 479.6L1410.8 475.8ZM1415.6 479.6L1415.6 469.6L1418.8 465.5L1428.8 465.5L1428.8 475.5L1425.6 479.6ZM1418.8 465.5L1428.8 465.5L1432.1 468.8L1432.1 478.8L1422.1 478.8L1418.8 475.5ZM1422.1 478.8L1422.1 468.8L1425.3 465.8L1435.3 465.8L1435.3 475.8L1432.1 478.8ZM1425.3 465.8L1435.3 465.8L1439.3 471.1L1439.3 481.1L1429.3 481.1L1425.3 475.8ZM1429.3 481.1L1429.3 471.1L1433.3 469.2L1443.3 469.2L1443.3 479.2L1439.3 481.1ZM1433.3 469.2L1443.3 469.2L1447.3 472.1L1447.3 482.1L1437.3 482.1L1433.3 479.2ZM1437.3 482.1L1437.3 472.1L1441.3 468.8L1451.3 468.8L1451.3 478.8L1447.3 482.1ZM1441.3 468.8L1451.3 468.8L1454.5 471.4L1454.5 481.4L1444.5 481.4L1441.3 478.8ZM1444.5 481.4L1444.5 471.4L1447.7 467.9L1457.7 467.9L1457.7 477.9L1454.5 481.4ZM1447.7 467.9L1457.7 467.9L1460.9 470.8L1460.9 480.8L1450.9 480.8L1447.7 477.9ZM1450.9 480.8L1450.9 470.8L1455.3 469.3L1465.3 469.3L1465.3 479.3L1460.9 480.8ZM1455.3 469.3L1465.3 469.3L1469.8 473.4L1469.8 483.4L1459.8 483.4L1455.3 479.3ZM1459.8 483.4L1459.8 473.4L1464.2 470.9L1474.2 470.9L1474.2 480.9L1469.8 483.4ZM1464.2 470.9L1474.2 470.9L1479.0 475.3L1479.0 485.3L1469.0 485.3L1464.2 480.9ZM1469.0 485.3L1469.0 475.3L1473.8 473.6L1483.8 473.6L1483.8 483.6L1479.0 485.3ZM1473.8 473.6L1483.8 473.6L1487.0 477.0L1487.0 487.0L1477.0 487.0L1473.8 483.6ZM1477.0 487.0L1477.0 477.0L1480.3 473.5L1490.3 473.5L1490.3 483.5L1487.0 487.0ZM1480.3 473.5L1490.3 473.5L1493.5 476.6L1493.5 486.6L1483.5 486.6L1480.3 483.5ZM1483.5 486.6L1483.5 476.6L1488.3 474.2L1498.3 474.2L1498.3 484.2L1493.5 486.6ZM1488.3 474.2L1498.3 474.2L1503.1 476.8L1503.1 486.8L1493.1 486.8L1488.3 484.2ZM1493.1 486.8L1493.1 476.8L1496.3 476.4L1506.3 476.4L1506.3 486.4L1503.1 486.8ZM1496.3 476.4L1506.3 476.4L1509.5 481.0L1509.5 491.0L1499.5 491.0L1496.3 486.4ZM1499.5 491.0L1499.5 481.0L1502.7 479.1L1512.7 479.1L1512.7 489.1L1509.5 491.0ZM1502.7 479.1L1512.7 479.1L1517.5 482.5L1517.5 492.5L1507.5 492.5L1502.7 489.1ZM1507.5 492.5L1507.5 482.5L1512.3 479.7L1522.3 479.7L1522.3 489.7L1517.5 492.5ZM1512.3 479.7L1522.3 479.7L1525.5 481.8L1525.5 491.8L1515.5 491.8L1512.3 489.7ZM1515.5 491.8L1515.5 481.8L1518.7 478.7L1528.7 478.7L1528.7 488.7L1525.5 491.8ZM1518.7 478.7L1528.7 478.7L1531.9 481.4L1531.9 491.4L1521.9 491.4L1518.7 488.7ZM1521.9 491.4L1521.9 481.4L1526.7 476.1L1536.7 476.1L1536.7 486.1L1531.9 491.4ZM1526.7 476.1L1536.7 476.1L1541.5 477.6L1541.5 487.6L1531.5 487.6L1526.7 486.1ZM1531.5 487.6L1531.5 477.6L1534.7 477.3L1544.7 477.3L1544.7 487.3L1541.5 487.6ZM1534.7 477.3L1544.7 477.3L1548.0 481.1L1548.0 491.1L1538.0 491.1L1534.7 487.3ZM1538.0 491.1L1538.0 481.1L1541.2 480.5L1551.2 480.5L1551.2 490.5L1548.0 491.1ZM1541.2 480.5L1551.2 480.5L1556.0 485.6L1556.0 495.6L1546.0 495.6L1541.2 490.5ZM1546.0 495.6L1546.0 485.6L1550.8 484.2L1560.8 484.2L1560.8 494.2L1556.0 495.6ZM1550.8 484.2L1560.8 484.2L1564.0 486.7L1564.0 496.7L1554.0 496.7L1550.8 494.2ZM1554.0 496.7L1554.0 486.7L1557.2 483.3L1567.2 483.3L1567.2 493.3L1564.0 496.7ZM1557.2 483.3L1567.2 483.3L1570.4 484.8L1570.4 494.8L1560.4 494.8L1557.2 493.3ZM1560.4 494.8L1560.4 484.8L1565.2 483.7L1575.2 483.7L1575.2 493.7L1570.4 494.8ZM1565.2 483.7L1575.2 483.7L1580.0 487.9L1580.0 497.9L1570.0 497.9L1565.2 493.7ZM1570.0 497.9L1570.0 487.9L1574.8 485.1L1584.8 485.1L1584.8 495.1L1580.0 497.9ZM1574.8 485.1L1584.8 485.1L1589.6 488.3L1589.6 498.3L1579.6 498.3L1574.8 495.1ZM1579.6 498.3L1579.6 488.3L1582.8 485.7L1592.8 485.7L1592.8 495.7L1589.6 498.3ZM1582.8 485.7L1592.8 485.7L1596.0 489.0L1596.0 499.0L1586.0 499.0L1582.8 495.7ZM1586.0 499.0L1586.0 489.0L1589.2 486.6L1599.2 486.6L1599.2 496.6L1596.0 499.0ZM1589.2 486.6L1599.2 486.6L1604.0 489.6L1604.0 499.6L1594.0 499.6L1589.2 496.6ZM1594.0 499.6L1594.0 489.6L1598.8 487.1L1608.8 487.1L1608.8 497.1L1604.0 499.6ZM1598.8 487.1L1608.8 487.1L1612.0 488.3L1612.0 498.3L1602.0 498.3L1598.8 497.1ZM1602.0 498.3L1602.0 488.3L1605.3 484.8L1615.3 484.8L1615.3 494.8L1612.0 498.3ZM1605.3 484.8L1615.3 484.8L1618.5 486.0L1618.5 496.0L1608.5 496.0L1605.3 494.8ZM1608.5 496.0L1608.5 486.0L1613.3 484.3L1623.3 484.3L1623.3 494.3L1618.5 496.0ZM1613.3 484.3L1623.3 484.3L1628.1 488.3L1628.1 498.3L1618.1 498.3L1613.3 494.3ZM1618.1 498.3L1618.1 488.3L1621.3 485.2L1631.3 485.2L1631.3 495.2L1628.1 498.3ZM1621.3 485.2L1631.3 485.2L1634.5 488.0L1634.5 498.0L1624.5 498.0L1621.3 495.2ZM1624.5 498.0L1624.5 488.0L1627.7 485.0L1637.7 485.0L1637.7 495.0L1634.5 498.0ZM1627.7 485.0L1637.7 485.0L1642.5 488.4L1642.5 498.4L1632.5 498.4L1627.7 495.0ZM1632.5 498.4L1632.5 488.4L1637.3 487.1L1647.3 487.1L1647.3 497.1L1642.5 498.4ZM1637.3 487.1L1647.3 487.1L1651.3 491.9L1651.3 501.9L1641.3 501.9L1637.3 497.1ZM1641.3 501.9L1641.3 491.9L1645.3 491.0L1655.3 491.0L1655.3 501.0L1651.3 501.9ZM1645.3 491.0L1655.3 491.0L1659.3 493.2L1659.3 503.2L1649.3 503.2L1645.3 501.0ZM1649.3 503.2L1649.3 493.2L1653.3 488.4L1663.3 488.4L1663.3 498.4L1659.3 503.2ZM1653.3 488.4L1663.3 488.4L1666.5 492.2L1666.5 502.2L1656.5 502.2L1653.3 498.4ZM1656.5 502.2L1656.5 492.2L1659.7 488.8L1669.7 488.8L1669.7 498.8L1666.5 502.2ZM1659.7 488.8L1669.7 488.8L1672.9 492.0L1672.9 502.0L1662.9 502.0L1659.7 498.8ZM1662.9 502.0L1662.9 492.0L1666.1 487.8L1676.1 487.8L1676.1 497.8L1672.9 502.0ZM1666.1 487.8L1676.1 487.8L1679.4 491.7L1679.4 501.7L1669.4 501.7L1666.1 497.8ZM1669.4 501.7L1669.4 491.7L1672.6 487.9L1682.6 487.9L1682.6 497.9L1679.4 501.7ZM1672.6 487.9L1682.6 487.9L1685.8 490.9L1685.8 500.9L1675.8 500.9L1672.6 497.9ZM1675.8 500.9L1675.8 490.9L1679.0 487.7L1689.0 487.7L1689.0 497.7L1685.8 500.9ZM1679.0 487.7L1689.0 487.7L1692.2 491.3L1692.2 501.3L1682.2 501.3L1679.0 497.7ZM1682.2 501.3L1682.2 491.3L1687.0 488.3L1697.0 488.3L1697.0 498.3L1692.2 501.3ZM1687.0 488.3L1697.0 488.3L1701.8 492.8L1701.8 502.8L1691.8 502.8L1687.0 498.3ZM1691.8 502.8L1691.8 492.8L1695.8 491.1L1705.8 491.1L1705.8 501.1L1701.8 502.8ZM1695.8 491.1L1705.8 491.1L1709.8 494.5L1709.8 504.5L1699.8 504.5L1695.8 501.1ZM1699.8 504.5L1699.8 494.5L1703.8 490.7L1713.8 490.7L1713.8 500.7L1709.8 504.5ZM1703.8 490.7L1713.8 490.7L1717.8 492.9L1717.8 502.9L1707.8 502.9L1703.8 500.7ZM1707.8 502.9L1707.8 492.9L1711.0 489.9L1721.0 489.9L1721.0 499.9L1717.8 502.9ZM1711.0 489.9L1721.0 489.9L1724.2 492.0L1724.2 502.0L1714.2 502.0L1711.0 499.9ZM1714.2 502.0L1714.2 492.0L1717.4 487.8L1727.4 487.8L1727.4 497.8L1724.2 502.0ZM1717.4 487.8L1727.4 487.8L1730.8 491.0L1730.8 501.0L1720.8 501.0L1717.4 497.8ZM1720.8 501.0L1720.8 491.0L1724.1 487.7L1734.1 487.7L1734.1 497.7L1730.8 501.0ZM1724.1 487.7L1734.1 487.7L1737.5 488.6L1737.5 498.6L1727.5 498.6L1724.1 497.7Z" fill="#0000cc" stroke="none"/>
<path d="M159.5 1299.8L159.5 1289.8L162.7 1288.7L172.7 1288.7L172.7 1298.7L169.5 1299.8ZM162.7 1288.7L172.7 1288.7L175.8 1290.7L175.8 1300.7L165.8 1300.7L162.7 1298.7ZM165.8 1300.7L165.8 1290.7L169.8 1288.9L179.8 1288.9L179.8 1298.9L175.8 1300.7ZM169.8 1288.9L179.8 1288.9L183.8 1293.2L183.8 1303.2L173.8 1303.2L169.8 1298.9ZM173.8 1303.2L173.8 1293.2L176.7 1290.1L186.7 1290.1L186.7 1300.1L183.8 1303.2ZM176.7 1290.1L186.7 1290.1L189.5 1290.4L189.5 1300.4L179.5 1300.4L176.7 1300.1ZM179.5 1290.4L189.5 1290.4L191.9 1293.0L191.9 1303.0L181.9 1303.0L179.5 1300.4ZM181.9 1293.0L191.9 1293.0L194.3 1298.8L194.3 1308.8L184.3 1308.8L181.9 1303.0ZM184.3 1308.8L184.3 1298.8L187.9 1294.4L197.9 1294.4L197.9 1304.4L194.3 1308.8ZM187.9 1294.4L197.9 1294.4L201.5 1295.2L201.5 1305.2L191.5 1305.2L187.9 1304.4ZM191.5 1295.2L201.5 1295.2L204.7 1295.3L204.7 1305.3L194.7 1305.3L191.5 1305.2ZM194.7 1295.3L204.7 1295.3L207.9 1299.9L207.9 1309.9L197.9 1309.9L194.7 1305.3ZM197.9 1309.9L197.9 1299.9L201.9 1294.6L211.9 1294.6L211.9 1304.6L207.9 1309.9ZM201.9 1294.6L211.9 1294.6L215.9 1295.0L215.9 1305.0L205.9 1305.0L201.9 1304.6ZM205.9 1305.0L205.9 1295.0L209.1 1294.8L219.1 1294.8L219.1 1304.8L215.9 1305.0ZM209.1 1294.8L219.1 1294.8L222.3 1300.3L222.3 1310.3L212.3 1310.3L209.1 1304.8ZM212.3 1310.3L212.3 1300.3L217.1 1299.3L227.1 1299.3L227.1 1309.3L222.3 1310.3ZM217.1 1299.3L227.1 1299.3L231.9 1303.9L231.9 1313.9L221.9 1313.9L217.1 1309.3ZM221.9 1313.9L221.9 1303.9L226.7 1300.5L236.7 1300.5L236.7 1310.5L231.9 1313.9ZM226.7 1300.5L236.7 1300.5L241.5 1303.9L241.5 1313.9L231.5 1313.9L226.7 1310.5ZM231.5 1313.9L231.5 1303.9L235.6 1302.2L245.6 1302.2L245.6 1312.2L241.5 1313.9ZM235.6 1302.2L245.6 1302.2L249.6 1306.2L249.6 1316.2L239.6 1316.2L235.6 1312.2ZM239.6 1316.2L239.6 1306.2L244.4 1302.0L254.4 1302.0L254.4 1312.0L249.6 1316.2ZM244.4 1302.0L254.4 1302.0L259.2 1305.3L259.2 1315.3L249.2 1315.3L244.4 1312.0ZM249.2 1315.3L249.2 1305.3L252.4 1301.3L262.4 1301.3L262.4 1311.3L259.2 1315.3ZM252.4 1301.3L262.4 1301.3L265.6 1305.5L265.6 1315.5L255.6 1315.5L252.4 1311.3ZM255.6 1315.5L255.6 1305.5L258.8 1301.8L268.8 1301.8L268.8 1311.8L265.6 1315.5ZM258.8 1301.8L268.8 1301.8L273.6 1306.3L273.6 1316.3L263.6 1316.3L258.8 1311.8ZM263.6 1316.3L263.6 1306.3L268.4 1304.2L278.4 1304.2L278.4 1314.2L273.6 1316.3ZM268.4 1304.2L278.4 1304.2L281.6 1305.9L281.6 1315.9L271.6 1315.9L268.4 1314.2ZM271.6 1315.9L271.6 1305.9L274.8 1301.7L284.8 1301.7L284.8 1311.7L281.6 1315.9ZM274.8 1301.7L284.8 1301.7L288.0 1303.7L288.0 1313.7L278.0 1313.7L274.8 1311.7ZM278.0 1313.7L278.0 1303.7L282.0 1303.0L292.0 1303.0L292.0 1313.0L288.0 1313.7ZM282.0 1303.0L292.0 1303.0L296.0 1308.8L296.0 1318.8L286.0 1318.8L282.0 1313.0ZM286.0 1318.8L286.0 1308.8L290.0 1305.2L300.0 1305.2L300.0 1315.2L296.0 1318.8ZM290.0 1305.2L300.0 1305.2L304.0 1308.4L304.0 1318.4L294.0 1318.4L290.0 1315.2ZM294.0 1318.4L294.0 1308.4L298.1 1304.1L308.1 1304.1L308.1 1314.1L304.0 1318.4ZM298.1 1304.1L308.1 1304.1L312.1 1306.0L312.1 1316.0L302.1 1316.0L298.1 1314.1ZM302.1 1316.0L302.1 1306.0L306.9 1302.2L316.9 1302.2L316.9 1312.2L312.1 1316.0ZM306.9 1302.2L316.9 1302.2L321.7 1303.5L321.7 1313.5L311.7 1313.5L306.9 1312.2ZM311.7 1313.5L311.7 1303.5L314.9 1299.9L324.9 1299.9L324.9 1309.9L321.7 1313.5ZM314.9 1299.9L324.9 1299.9L328.1 1300.8L328.1 1310.8L318.1 1310.8L314.9 1309.9ZM318.1 1310.8L318.1 1300.8L321.3 1296.6L331.3 1296.6L331.3 1306.6L328.1 1310.8ZM321.3 1296.6L331.3 1296.6L335.3 1298.9L335.3 1308.9L325.3 1308.9L321.3 1306.6ZM325.3 1308.9L325.3 1298.9L329.3 1294.7L339.3 1294.7L339.3 1304.7L335.3 1308.9ZM329.3 1294.7L339.3 1294.7L344.1 1295.9L344.1 1305.9L334.1 1305.9L329.3 1304.7ZM334.1 1305.9L334.1 1295.9L338.9 1292.0L348.9 1292.0L348.9 1302.0L344.1 1305.9ZM338.9 1302.0L338.9 1292.0L342.9 1290.6L352.9 1290.6L352.9 1300.6L348.9 1302.0ZM342.9 1300.6L342.9 1290.6L346.9 1285.7L356.9 1285.7L356.9 1295.7L352.9 1300.6ZM346.9 1295.7L346.9 1285.7L349.3 1277.9L359.3 1277.9L359.3 1287.9L356.9 1295.7ZM349.3 1287.9L349.3 1277.9L351.7 1269.4L361.7 1269.4L361.7 1279.4L359.3 1287.9ZM351.7 1279.4L351.7 1269.4L354.1 1264.3L364.1 1264.3L364.1 1274.3L361.7 1279.4ZM354.1 1274.3L354.1 1264.3L356.5 1258.4L366.5 1258.4L366.5 1268.4L364.1 1274.3ZM356.5 1268.4L356.5 1258.4L358.9 1250.6L368.9 1250.6L368.9 1260.6L366.5 1268.4ZM358.9 1260.6L358.9 1250.6L361.3 1242.3L371.3 1242.3L371.3 1252.3L368.9 1260.6ZM361.3 1252.3L361.3 1242.3L363.8 1235.5L373.8 1235.5L373.8 1245.5L371.3 1252.3ZM363.8 1245.5L363.8 1235.5L366.2 1228.1L376.2 1228.1L376.2 1238.1L373.8 1245.5ZM366.2 1238.1L366.2 1228.1L369.4 1207.2L379.4 1207.2L379.4 1217.2L376.2 1238.1ZM369.4 1217.2L369.4 1207.2L372.6 1187.9L382.6 1187.9L382.6 1197.9L379.4 1217.2ZM372.6 1197.9L372.6 1187.9L375.8 1167.2L385.8 1167.2L385.8 1177.2L382.6 1197.9ZM375.8 1177.2L375.8 1167.2L379.0 1149.1L389.0 1149.1L389.0 1159.1L385.8 1177.2ZM379.0 1159.1L379.0 1149.1L382.2 1146.2L392.2 1146.2L392.2 1156.2L389.0 1159.1ZM382.2 1156.2L382.2 1146.2L384.6 1142.6L394.6 1142.6L394.6 1152.6L392.2 1156.2ZM384.6 1142.6L394.6 1142.6L397.0 1145.5L397.0 1155.5L387.0 1155.5L384.6 1152.6ZM387.0 1145.5L397.0 1145.5L399.4 1147.4L399.4 1157.4L389.4 1157.4L387.0 1155.5ZM389.4 1147.4L399.4 1147.4L401.8 1151.3L401.8 1161.3L391.8 1161.3L389.4 1157.4ZM391.8 1151.3L401.8 1151.3L404.2 1159.1L404.2 1169.1L394.2 1169.1L391.8 1161.3ZM394.2 1159.1L404.2 1159.1L406.6 1167.4L406.6 1177.4L396.6 1177.4L394.2 1169.1ZM396.6 1167.4L406.6 1167.4L411.4 1183.1L411.4 1193.1L401.4 1193.1L396.6 1177.4ZM401.4 1183.1L411.4 1183.1L413.8 1191.3L413.8 1201.3L403.8 1201.3L401.4 1193.1ZM403.8 1191.3L413.8 1191.3L416.2 1199.1L416.2 1209.1L406.2 1209.1L403.8 1201.3ZM406.2 1199.1L416.2 1199.1L419.4 1215.5L419.4 1225.5L409.4 1225.5L406.2 1209.1ZM409.4 1215.5L419.4 1215.5L421.8 1221.5L421.8 1231.5L411.8 1231.5L409.4 1225.5ZM411.8 1221.5L421.8 1221.5L424.2 1229.0L424.2 1239.0L414.2 1239.0L411.8 1231.5ZM414.2 1229.0L424.2 1229.0L427.4 1229.4L427.4 1239.4L417.4 1239.4L414.2 1239.0ZM417.4 1229.4L427.4 1229.4L430.6 1233.6L430.6 1243.6L420.6 1243.6L417.4 1239.4ZM420.6 1243.6L420.6 1233.6L424.6 1231.5L434.6 1231.5L434.6 1241.5L430.6 1243.6ZM424.6 1231.5L434.6 1231.5L438.7 1236.2L438.7 1246.2L428.7 1246.2L424.6 1241.5ZM428.7 1246.2L428.7 1236.2L432.8 1232.3L442.8 1232.3L442.8 1242.3L438.7 1246.2ZM432.8 1232.3L442.8 1232.3L446.9 1234.2L446.9 1244.2L436.9 1244.2L432.8 1242.3ZM436.9 1244.2L436.9 1234.2L441.0 1230.4L451.0 1230.4L451.0 1240.4L446.9 1244.2ZM441.0 1230.4L451.0 1230.4L455.0 1233.6L455.0 1243.6L445.0 1243.6L441.0 1240.4ZM445.0 1243.6L445.0 1233.6L449.0 1231.4L459.0 1231.4L459.0 1241.4L455.0 1243.6ZM449.0 1231.4L459.0 1231.4L463.1 1236.8L463.1 1246.8L453.1 1246.8L449.0 1241.4ZM453.1 1246.8L453.1 1236.8L457.1 1236.3L467.1 1236.3L467.1 1246.3L463.1 1246.8ZM457.1 1236.3L467.1 1236.3L471.9 1243.4L471.9 1253.4L461.9 1253.4L457.1 1246.3ZM461.9 1253.4L461.9 1243.4L465.9 1238.3L475.9 1238.3L475.9 1248.3L471.9 1253.4ZM465.9 1248.3L465.9 1238.3L469.9 1238.1L479.9 1238.1L479.9 1248.1L475.9 1248.3ZM469.9 1248.1L469.9 1238.1L473.9 1232.8L483.9 1232.8L483.9 1242.8L479.9 1248.1ZM473.9 1242.8L473.9 1232.8L477.9 1232.0L487.9 1232.0L487.9 1242.0L483.9 1242.8ZM477.9 1242.0L477.9 1232.0L481.1 1227.0L491.1 1227.0L491.1 1237.0L487.9 1242.0ZM481.1 1227.0L491.1 1227.0L494.3 1227.4L494.3 1237.4L484.3 1237.4L481.1 1237.0ZM484.3 1237.4L484.3 1227.4L488.3 1223.9L498.3 1223.9L498.3 1233.9L494.3 1237.4ZM488.3 1223.9L498.3 1223.9L502.3 1227.5L502.3 1237.5L492.3 1237.5L488.3 1233.9ZM492.3 1237.5L492.3 1227.5L495.5 1225.3L505.5 1225.3L505.5 1235.3L502.3 1237.5ZM495.5 1225.3L505.5 1225.3L508.7 1227.6L508.7 1237.6L498.7 1237.6L495.5 1235.3ZM498.7 1237.6L498.7 1227.6L501.1 1220.8L511.1 1220.8L511.1 1230.8L508.7 1237.6ZM501.1 1230.8L501.1 1220.8L503.5 1216.2L513.5 1216.2L513.5 1226.2L511.1 1230.8ZM503.5 1226.2L503.5 1216.2L507.5 1211.4L517.5 1211.4L517.5 1221.4L513.5 1226.2ZM507.5 1211.4L517.5 1211.4L521.5 1212.9L521.5 1222.9L511.5 1222.9L507.5 1221.4ZM511.5 1222.9L511.5 1212.9L515.5 1208.3L525.5 1208.3L525.5 1218.3L521.5 1222.9ZM515.5 1218.3L515.5 1208.3L519.6 1207.1L529.6 1207.1L529.6 1217.1L525.5 1218.3ZM519.6 1217.1L519.6 1207.1L522.8 1201.4L532.8 1201.4L532.8 1211.4L529.6 1217.1ZM522.8 1211.4L522.8 1201.4L526.0 1197.4L536.0 1197.4L536.0 1207.4L532.8 1211.4ZM526.0 1207.4L526.0 1197.4L530.0 1190.8L540.0 1190.8L540.0 1200.8L536.0 1207.4ZM530.0 1200.8L530.0 1190.8L534.0 1186.2L544.0 1186.2L544.0 1196.2L540.0 1200.8ZM534.0 1196.2L534.0 1186.2L537.2 1179.9L547.2 1179.9L547.2 1189.9L544.0 1196.2ZM537.2 1189.9L537.2 1179.9L540.4 1175.5L550.4 1175.5L550.4 1185.5L547.2 1189.9ZM540.4 1185.5L540.4 1175.5L544.4 1171.1L554.4 1171.1L554.4 1181.1L550.4 1185.5ZM544.4 1171.1L554.4 1171.1L558.4 1171.4L558.4 1181.4L548.4 1181.4L544.4 1181.1ZM548.4 1181.4L548.4 1171.4L551.6 1156.3L561.6 1156.3L561.6 1166.3L558.4 1181.4ZM551.6 1166.3L551.6 1156.3L555.6 1153.5L565.6 1153.5L565.6 1163.5L561.6 1166.3ZM555.6 1163.5L555.6 1153.5L559.6 1148.7L569.6 1148.7L569.6 1158.7L565.6 1163.5ZM559.6 1158.7L559.6 1148.7L564.4 1136.9L574.4 1136.9L574.4 1146.9L569.6 1158.7ZM564.4 1146.9L564.4 1136.9L568.4 1130.8L578.4 1130.8L578.4 1140.8L574.4 1146.9ZM568.4 1140.8L568.4 1130.8L572.4 1127.5L582.4 1127.5L582.4 1137.5L578.4 1140.8ZM572.4 1137.5L572.4 1127.5L576.4 1123.3L586.4 1123.3L586.4 1133.3L582.4 1137.5ZM576.4 1133.3L576.4 1123.3L580.4 1123.1L590.4 1123.1L590.4 1133.1L586.4 1133.3ZM580.4 1133.1L580.4 1123.1L584.5 1119.4L594.5 1119.4L594.5 1129.4L590.4 1133.1ZM584.5 1119.4L594.5 1119.4L598.5 1119.8L598.5 1129.8L588.5 1129.8L584.5 1129.4ZM588.5 1129.8L588.5 1119.8L591.7 1114.2L601.7 1114.2L601.7 1124.2L598.5 1129.8ZM591.7 1124.2L591.7 1114.2L594.9 1111.3L604.9 1111.3L604.9 1121.3L601.7 1124.2ZM594.9 1121.3L594.9 1111.3L598.9 1104.8L608.9 1104.8L608.9 1114.8L604.9 1121.3ZM598.9 1114.8L598.9 1104.8L602.9 1100.9L612.9 1100.9L612.9 1110.9L608.9 1114.8ZM602.9 1110.9L602.9 1100.9L605.3 1094.2L615.3 1094.2L615.3 1104.2L612.9 1110.9ZM605.3 1104.2L605.3 1094.2L607.7 1089.2L617.7 1089.2L617.7 1099.2L615.3 1104.2ZM607.7 1099.2L607.7 1089.2L611.7 1084.2L621.7 1084.2L621.7 1094.2L617.7 1099.2ZM611.7 1094.2L611.7 1084.2L615.7 1081.9L625.7 1081.9L625.7 1091.9L621.7 1094.2ZM615.7 1091.9L615.7 1081.9L618.9 1075.6L628.9 1075.6L628.9 1085.6L625.7 1091.9ZM618.9 1085.6L618.9 1075.6L622.1 1071.4L632.1 1071.4L632.1 1081.4L628.9 1085.6ZM622.1 1081.4L622.1 1071.4L625.3 1066.9L635.3 1066.9L635.3 1076.9L632.1 1081.4ZM625.3 1066.9L635.3 1066.9L638.5 1067.4L638.5 1077.4L628.5 1077.4L625.3 1076.9ZM628.5 1077.4L628.5 1067.4L631.7 1063.8L641.7 1063.8L641.7 1073.8L638.5 1077.4ZM631.7 1073.8L631.7 1063.8L636.5 1052.1L646.5 1052.1L646.5 1062.1L641.7 1073.8ZM636.5 1062.1L636.5 1052.1L640.5 1047.8L650.5 1047.8L650.5 1057.8L646.5 1062.1ZM640.5 1057.8L640.5 1047.8L644.6 1046.7L654.6 1046.7L654.6 1056.7L650.5 1057.8ZM644.6 1056.7L644.6 1046.7L648.6 1040.3L658.6 1040.3L658.6 1050.3L654.6 1056.7ZM648.6 1050.3L648.6 1040.3L652.6 1035.2L662.6 1035.2L662.6 1045.2L658.6 1050.3ZM652.6 1045.2L652.6 1035.2L657.4 1015.3L667.4 1015.3L667.4 1025.3L662.6 1045.2ZM657.4 1025.3L657.4 1015.3L661.4 1012.9L671.4 1012.9L671.4 1022.9L667.4 1025.3ZM661.4 1022.9L661.4 1012.9L665.4 1007.9L675.4 1007.9L675.4 1017.9L671.4 1022.9ZM665.4 1017.9L665.4 1007.9L668.6 989.1L678.6 989.1L678.6 999.1L675.4 1017.9ZM668.6 999.1L668.6 989.1L672.6 983.2L682.6 983.2L682.6 993.2L678.6 999.1ZM672.6 993.2L672.6 983.2L676.6 979.2L686.6 979.2L686.6 989.2L682.6 993.2ZM676.6 989.2L676.6 979.2L679.8 970.9L689.8 970.9L689.8 980.9L686.6 989.2ZM679.8 980.9L679.8 970.9L683.0 963.1L693.0 963.1L693.0 973.1L689.8 980.9ZM683.0 973.1L683.0 963.1L686.2 951.9L696.2 951.9L696.2 961.9L693.0 973.1ZM686.2 961.9L686.2 951.9L689.5 941.1L699.5 941.1L699.5 951.1L696.2 961.9ZM689.5 951.1L689.5 941.1L694.3 928.0L704.3 928.0L704.3 938.0L699.5 951.1ZM694.3 938.0L694.3 928.0L696.7 920.2L706.7 920.2L706.7 930.2L704.3 938.0ZM696.7 930.2L696.7 920.2L699.1 911.2L709.1 911.2L709.1 921.2L706.7 930.2ZM699.1 921.2L699.1 911.2L700.9 910.0L710.9 910.0L710.9 920.0L709.1 921.2ZM700.9 920.0L700.9 910.0L702.2 904.1L712.2 904.1L712.2 914.1L710.9 920.0ZM702.2 914.1L702.2 904.1L704.1 900.3L714.1 900.3L714.1 910.3L712.2 914.1ZM704.1 910.3L704.1 900.3L707.3 897.1L717.3 897.1L717.3 907.1L714.1 910.3ZM707.3 907.1L707.3 897.1L707.9 891.3L717.9 891.3L717.9 901.3L717.3 907.1ZM707.9 901.3L707.9 891.3L709.2 886.8L719.2 886.8L719.2 896.8L717.9 901.3ZM709.2 896.8L709.2 886.8L711.2 872.1L721.2 872.1L721.2 882.1L719.2 896.8ZM711.2 882.1L711.2 872.1L712.1 868.2L722.1 868.2L722.1 878.2L721.2 882.1ZM712.1 878.2L712.1 868.2L716.3 859.2L726.3 859.2L726.3 869.2L722.1 878.2ZM716.3 869.2L716.3 859.2L718.2 850.3L728.2 850.3L728.2 860.3L726.3 869.2ZM718.2 860.3L718.2 850.3L720.1 842.6L730.1 842.6L730.1 852.6L728.2 860.3ZM720.1 852.6L720.1 842.6L721.1 839.4L731.1 839.4L731.1 849.4L730.1 852.6ZM721.1 849.4L721.1 839.4L724.9 839.4L734.9 839.4L734.9 849.4L731.1 849.4ZM724.9 849.4L724.9 839.4L730.1 821.2L740.1 821.2L740.1 831.2L734.9 849.4ZM730.1 821.2L740.1 821.2L744.8 825.8L744.8 835.8L734.8 835.8L730.1 831.2ZM734.8 835.8L734.8 825.8L739.1 809.0L749.1 809.0L749.1 819.0L744.8 835.8ZM739.1 809.0L749.1 809.0L749.9 810.5L749.9 820.5L739.9 820.5L739.1 819.0ZM739.9 810.5L749.9 810.5L751.9 820.8L751.9 830.8L741.9 830.8L739.9 820.5ZM741.9 820.8L751.9 820.8L753.1 831.0L753.1 841.0L743.1 841.0L741.9 830.8ZM743.1 831.0L753.1 831.0L756.7 845.1L756.7 855.1L746.7 855.1L743.1 841.0ZM746.7 845.1L756.7 845.1L760.2 855.4L760.2 865.4L750.2 865.4L746.7 855.1ZM750.2 855.4L760.2 855.4L762.4 863.1L762.4 873.1L752.4 873.1L750.2 865.4ZM752.4 863.1L762.4 863.1L765.6 872.1L765.6 882.1L755.6 882.1L752.4 873.1ZM755.6 872.1L765.6 872.1L769.8 882.3L769.8 892.3L759.8 892.3L755.6 882.1ZM759.8 882.3L769.8 882.3L771.7 888.1L771.7 898.1L761.7 898.1L759.8 892.3ZM761.7 888.1L771.7 888.1L773.3 897.7L773.3 907.7L763.3 907.7L761.7 898.1ZM763.3 897.7L773.3 897.7L775.3 910.2L775.3 920.2L765.3 920.2L763.3 907.7ZM765.3 910.2L775.3 910.2L778.0 918.3L778.0 928.3L768.0 928.3L765.3 920.2ZM768.0 918.3L778.0 918.3L782.8 931.4L782.8 941.4L772.8 941.4L768.0 928.3ZM772.8 931.4L782.8 931.4L785.2 941.6L785.2 951.6L775.2 951.6L772.8 941.4ZM775.2 941.6L785.2 941.6L787.6 952.1L787.6 962.1L777.6 962.1L775.2 951.6ZM777.6 952.1L787.6 952.1L790.8 970.3L790.8 980.3L780.8 980.3L777.6 962.1ZM780.8 970.3L790.8 970.3L794.0 975.5L794.0 985.5L784.0 985.5L780.8 980.3ZM784.0 975.5L794.0 975.5L797.2 977.4L797.2 987.4L787.2 987.4L784.0 985.5ZM787.2 977.4L797.2 977.4L800.5 982.4L800.5 992.4L790.5 992.4L787.2 987.4ZM790.5 982.4L800.5 982.4L803.7 984.4L803.7 994.4L793.7 994.4L790.5 992.4ZM793.7 984.4L803.7 984.4L806.9 988.3L806.9 998.3L796.9 998.3L793.7 994.4ZM796.9 998.3L796.9 988.3L800.1 987.7L810.1 987.7L810.1 997.7L806.9 998.3ZM800.1 987.7L810.1 987.7L813.3 987.9L813.3 997.9L803.3 997.9L800.1 997.7ZM803.3 997.9L803.3 987.9L806.5 983.6L816.5 983.6L816.5 993.6L813.3 997.9ZM806.5 993.6L806.5 983.6L811.3 978.1L821.3 978.1L821.3 988.1L816.5 993.6ZM811.3 988.1L811.3 978.1L814.1 971.7L824.1 971.7L824.1 981.7L821.3 988.1ZM814.1 981.7L814.1 971.7L816.9 966.7L826.9 966.7L826.9 976.7L824.1 981.7ZM816.9 976.7L816.9 966.7L820.9 955.2L830.9 955.2L830.9 965.2L826.9 976.7ZM820.9 965.2L820.9 955.2L823.3 948.2L833.3 948.2L833.3 958.2L830.9 965.2ZM823.3 958.2L823.3 948.2L825.7 940.8L835.7 940.8L835.7 950.8L833.3 958.2ZM825.7 950.8L825.7 940.8L830.5 921.8L840.5 921.8L840.5 931.8L835.7 950.8ZM830.5 931.8L830.5 921.8L834.5 899.2L844.5 899.2L844.5 909.2L840.5 931.8ZM834.5 909.2L834.5 899.2L837.7 867.2L847.7 867.2L847.7 877.2L844.5 909.2ZM837.7 877.2L837.7 867.2L840.9 835.1L850.9 835.1L850.9 845.1L847.7 877.2ZM840.9 845.1L840.9 835.1L844.1 803.1L854.1 803.1L854.1 813.1L850.9 845.1ZM844.1 813.1L844.1 803.1L847.3 779.0L857.3 779.0L857.3 789.0L854.1 813.1ZM847.3 789.0L847.3 779.0L850.5 755.0L860.5 755.0L860.5 765.0L857.3 789.0ZM850.5 765.0L850.5 755.0L852.4 735.0L862.4 735.0L862.4 745.0L860.5 765.0ZM852.4 745.0L852.4 735.0L855.2 707.4L865.2 707.4L865.2 717.4L862.4 745.0ZM855.2 717.4L855.2 707.4L857.9 675.4L867.9 675.4L867.9 685.4L865.2 717.4ZM857.9 685.4L857.9 675.4L860.8 643.3L870.8 643.3L870.8 653.3L867.9 685.4ZM860.8 653.3L860.8 643.3L863.7 611.3L873.7 611.3L873.7 621.3L870.8 653.3ZM863.7 621.3L863.7 611.3L865.9 579.2L875.9 579.2L875.9 589.2L873.7 621.3ZM865.9 589.2L865.9 579.2L867.8 560.0L877.8 560.0L877.8 570.0L875.9 589.2ZM867.8 570.0L867.8 560.0L869.1 541.3L879.1 541.3L879.1 551.3L877.8 570.0ZM869.1 551.3L869.1 541.3L872.0 509.2L882.0 509.2L882.0 519.2L879.1 551.3ZM872.0 519.2L872.0 509.2L874.2 486.8L884.2 486.8L884.2 496.8L882.0 519.2ZM874.2 496.8L874.2 486.8L875.2 479.7L885.2 479.7L885.2 489.7L884.2 496.8ZM875.2 489.7L875.2 479.7L880.0 466.9L890.0 466.9L890.0 476.9L885.2 489.7ZM880.0 476.9L880.0 466.9L884.5 460.0L894.5 460.0L894.5 470.0L890.0 476.9ZM884.5 460.0L894.5 460.0L896.7 468.2L896.7 478.2L886.7 478.2L884.5 470.0ZM886.7 468.2L896.7 468.2L898.6 477.2L898.6 487.2L888.6 487.2L886.7 478.2ZM888.6 477.2L898.6 477.2L900.5 491.3L900.5 501.3L890.5 501.3L888.6 487.2ZM890.5 491.3L900.5 491.3L902.1 500.9L902.1 510.9L892.1 510.9L890.5 501.3ZM892.1 500.9L902.1 500.9L903.7 516.9L903.7 526.9L893.7 526.9L892.1 510.9ZM893.7 516.9L903.7 516.9L904.7 529.7L904.7 539.7L894.7 539.7L893.7 526.9ZM894.7 529.7L904.7 529.7L906.6 549.0L906.6 559.0L896.6 559.0L894.7 539.7ZM896.6 549.0L906.6 549.0L909.2 579.2L909.2 589.2L899.2 589.2L896.6 559.0ZM899.2 579.2L909.2 579.2L911.6 611.3L911.6 621.3L901.6 621.3L899.2 589.2ZM901.6 611.3L911.6 611.3L914.0 643.3L914.0 653.3L904.0 653.3L901.6 621.3ZM904.0 643.3L914.0 643.3L916.4 675.4L916.4 685.4L906.4 685.4L904.0 653.3ZM906.4 675.4L916.4 675.4L918.5 707.4L918.5 717.4L908.5 717.4L906.4 685.4ZM908.5 707.4L918.5 707.4L920.1 735.0L920.1 745.0L910.1 745.0L908.5 717.4ZM910.1 735.0L920.1 735.0L923.8 787.1L923.8 797.1L913.8 797.1L910.1 745.0ZM913.8 787.1L923.8 787.1L927.1 835.1L927.1 845.1L917.1 845.1L913.8 797.1ZM917.1 835.1L927.1 835.1L930.6 895.0L930.6 905.0L920.6 905.0L917.1 845.1ZM920.6 895.0L930.6 895.0L934.6 919.0L934.6 929.0L924.6 929.0L920.6 905.0ZM924.6 919.0L934.6 919.0L937.9 943.1L937.9 953.1L927.9 953.1L924.6 929.0ZM927.9 943.1L937.9 943.1L941.1 967.1L941.1 977.1L931.1 977.1L927.9 953.1ZM931.1 967.1L941.1 967.1L944.3 991.2L944.3 1001.2L934.3 1001.2L931.1 977.1ZM934.3 991.2L944.3 991.2L947.5 1015.1L947.5 1025.1L937.5 1025.1L934.3 1001.2ZM937.5 1015.1L947.5 1015.1L950.7 1031.6L950.7 1041.6L940.7 1041.6L937.5 1025.1ZM940.7 1031.6L950.7 1031.6L953.5 1036.6L953.5 1046.6L943.5 1046.6L940.7 1041.6ZM943.5 1036.6L953.5 1036.6L956.3 1042.5L956.3 1052.5L946.3 1052.5L943.5 1046.6ZM946.3 1042.5L956.3 1042.5L958.7 1052.0L958.7 1062.0L948.7 1062.0L946.3 1052.5ZM948.7 1052.0L958.7 1052.0L961.1 1061.8L961.1 1071.8L951.1 1071.8L948.7 1062.0ZM951.1 1061.8L961.1 1061.8L964.3 1072.4L964.3 1082.4L954.3 1082.4L951.1 1071.8ZM954.3 1072.4L964.3 1072.4L967.5 1079.0L967.5 1089.0L957.5 1089.0L954.3 1082.4ZM957.5 1079.0L967.5 1079.0L970.7 1083.6L970.7 1093.6L960.7 1093.6L957.5 1089.0ZM960.7 1083.6L970.7 1083.6L973.9 1089.4L973.9 1099.4L963.9 1099.4L960.7 1093.6ZM963.9 1089.4L973.9 1089.4L977.1 1093.0L977.1 1103.0L967.1 1103.0L963.9 1099.4ZM967.1 1093.0L977.1 1093.0L980.3 1098.2L980.3 1108.2L970.3 1108.2L967.1 1103.0ZM970.3 1098.2L980.3 1098.2L983.5 1100.7L983.5 1110.7L973.5 1110.7L970.3 1108.2ZM973.5 1100.7L983.5 1100.7L986.3 1105.8L986.3 1115.8L976.3 1115.8L973.5 1110.7ZM976.3 1105.8L986.3 1105.8L989.1 1107.0L989.1 1117.0L979.1 1117.0L976.3 1115.8ZM979.1 1117.0L979.1 1107.0L982.7 1106.1L992.7 1106.1L992.7 1116.1L989.1 1117.0ZM982.7 1116.1L982.7 1106.1L986.3 1100.4L996.3 1100.4L996.3 1110.4L992.7 1116.1ZM986.3 1100.4L996.3 1100.4L999.5 1100.5L999.5 1110.5L989.5 1110.5L986.3 1110.4ZM989.5 1110.5L989.5 1100.5L992.8 1096.2L1002.8 1096.2L1002.8 1106.2L999.5 1110.5ZM992.8 1106.2L992.8 1096.2L995.2 1095.2L1005.2 1095.2L1005.2 1105.2L1002.8 1106.2ZM995.2 1105.2L995.2 1095.2L997.6 1092.1L1007.6 1092.1L1007.6 1102.1L1005.2 1105.2ZM997.6 1102.1L997.6 1092.1L1000.8 1076.3L1010.8 1076.3L1010.8 1086.3L1007.6 1102.1ZM1000.8 1086.3L1000.8 1076.3L1003.2 1070.2L1013.2 1070.2L1013.2 1080.2L1010.8 1086.3ZM1003.2 1080.2L1003.2 1070.2L1005.6 1064.9L1015.6 1064.9L1015.6 1074.9L1013.2 1080.2ZM1005.6 1074.9L1005.6 1064.9L1009.6 1042.3L1019.6 1042.3L1019.6 1052.3L1015.6 1074.9ZM1009.6 1052.3L1009.6 1042.3L1014.4 1028.0L1024.4 1028.0L1024.4 1038.0L1019.6 1052.3ZM1014.4 1038.0L1014.4 1028.0L1017.6 1007.2L1027.6 1007.2L1027.6 1017.2L1024.4 1038.0ZM1017.6 1017.2L1017.6 1007.2L1020.8 984.7L1030.8 984.7L1030.8 994.7L1027.6 1017.2ZM1020.8 994.7L1020.8 984.7L1024.0 963.6L1034.0 963.6L1034.0 973.6L1030.8 994.7ZM1024.0 973.6L1024.0 963.6L1028.8 954.4L1038.8 954.4L1038.8 964.4L1034.0 973.6ZM1028.8 964.4L1028.8 954.4L1032.8 940.8L1042.8 940.8L1042.8 950.8L1038.8 964.4ZM1032.8 950.8L1032.8 940.8L1034.4 940.5L1044.4 940.5L1044.4 950.5L1042.8 950.8ZM1034.4 940.5L1044.4 940.5L1047.2 943.5L1047.2 953.5L1037.2 953.5L1034.4 950.5ZM1037.2 943.5L1047.2 943.5L1050.0 948.0L1050.0 958.0L1040.0 958.0L1037.2 953.5ZM1040.0 948.0L1050.0 948.0L1054.8 967.1L1054.8 977.1L1044.8 977.1L1040.0 958.0ZM1044.8 967.1L1054.8 967.1L1058.8 991.2L1058.8 1001.2L1048.8 1001.2L1044.8 977.1ZM1048.8 991.2L1058.8 991.2L1062.1 1015.1L1062.1 1025.1L1052.1 1025.1L1048.8 1001.2ZM1052.1 1015.1L1062.1 1015.1L1066.1 1039.3L1066.1 1049.3L1056.1 1049.3L1052.1 1025.1ZM1056.1 1039.3L1066.1 1039.3L1070.1 1061.6L1070.1 1071.6L1060.1 1071.6L1056.1 1049.3ZM1060.1 1061.6L1070.1 1061.6L1074.1 1082.6L1074.1 1092.6L1064.1 1092.6L1060.1 1071.6ZM1064.1 1082.6L1074.1 1082.6L1076.5 1092.0L1076.5 1102.0L1066.5 1102.0L1064.1 1092.6ZM1066.5 1092.0L1076.5 1092.0L1078.9 1101.8L1078.9 1111.8L1068.9 1111.8L1066.5 1102.0ZM1068.9 1101.8L1078.9 1101.8L1082.9 1119.3L1082.9 1129.3L1072.9 1129.3L1068.9 1111.8ZM1072.9 1119.3L1082.9 1119.3L1086.1 1132.4L1086.1 1142.4L1076.1 1142.4L1072.9 1129.3ZM1076.1 1132.4L1086.1 1132.4L1088.9 1138.4L1088.9 1148.4L1078.9 1148.4L1076.1 1142.4ZM1078.9 1138.4L1088.9 1138.4L1091.7 1145.2L1091.7 1155.2L1081.7 1155.2L1078.9 1148.4ZM1081.7 1145.2L1091.7 1145.2L1094.5 1151.2L1094.5 1161.2L1084.5 1161.2L1081.7 1155.2ZM1084.5 1151.2L1094.5 1151.2L1097.3 1157.9L1097.3 1167.9L1087.3 1167.9L1084.5 1161.2ZM1087.3 1157.9L1097.3 1157.9L1102.1 1168.8L1102.1 1178.8L1092.1 1178.8L1087.3 1167.9ZM1092.1 1168.8L1102.1 1168.8L1105.3 1173.8L1105.3 1183.8L1095.3 1183.8L1092.1 1178.8ZM1095.3 1183.8L1095.3 1173.8L1098.5 1173.4L1108.5 1173.4L1108.5 1183.4L1105.3 1183.8ZM1098.5 1173.4L1108.5 1173.4L1111.7 1178.5L1111.7 1188.5L1101.7 1188.5L1098.5 1183.4ZM1101.7 1178.5L1111.7 1178.5L1114.9 1181.3L1114.9 1191.3L1104.9 1191.3L1101.7 1188.5ZM1104.9 1181.3L1114.9 1181.3L1118.1 1187.2L1118.1 1197.2L1108.1 1197.2L1104.9 1191.3ZM1108.1 1187.2L1118.1 1187.2L1121.3 1190.6L1121.3 1200.6L1111.3 1200.6L1108.1 1197.2ZM1111.3 1190.6L1121.3 1190.6L1125.8 1194.7L1125.8 1204.7L1115.8 1204.7L1111.3 1200.6ZM1115.8 1204.7L1115.8 1194.7L1119.0 1190.8L1129.0 1190.8L1129.0 1200.8L1125.8 1204.7ZM1119.0 1200.8L1119.0 1190.8L1122.2 1190.7L1132.2 1190.7L1132.2 1200.7L1129.0 1200.8ZM1122.2 1190.7L1132.2 1190.7L1134.7 1196.6L1134.7 1206.6L1124.7 1206.6L1122.2 1200.7ZM1124.7 1196.6L1134.7 1196.6L1137.1 1204.6L1137.1 1214.6L1127.1 1214.6L1124.7 1206.6ZM1127.1 1214.6L1127.1 1204.6L1131.1 1202.8L1141.1 1202.8L1141.1 1212.8L1137.1 1214.6ZM1131.1 1202.8L1141.1 1202.8L1145.1 1206.5L1145.1 1216.5L1135.1 1216.5L1131.1 1212.8ZM1135.1 1216.5L1135.1 1206.5L1139.1 1205.1L1149.1 1205.1L1149.1 1215.1L1145.1 1216.5ZM1139.1 1205.1L1149.1 1205.1L1153.1 1209.9L1153.1 1219.9L1143.1 1219.9L1139.1 1215.1ZM1143.1 1219.9L1143.1 1209.9L1146.3 1207.1L1156.3 1207.1L1156.3 1217.1L1153.1 1219.9ZM1146.3 1207.1L1156.3 1207.1L1159.5 1210.1L1159.5 1220.1L1149.5 1220.1L1146.3 1217.1ZM1149.5 1210.1L1159.5 1210.1L1164.3 1215.2L1164.3 1225.2L1154.3 1225.2L1149.5 1220.1ZM1154.3 1225.2L1154.3 1215.2L1157.5 1214.2L1167.5 1214.2L1167.5 1224.2L1164.3 1225.2ZM1157.5 1224.2L1157.5 1214.2L1160.7 1210.3L1170.7 1210.3L1170.7 1220.3L1167.5 1224.2ZM1160.7 1210.3L1170.7 1210.3L1173.9 1211.0L1173.9 1221.0L1163.9 1221.0L1160.7 1220.3ZM1163.9 1221.0L1163.9 1211.0L1167.1 1207.3L1177.1 1207.3L1177.1 1217.3L1173.9 1221.0ZM1167.1 1207.3L1177.1 1207.3L1181.1 1211.5L1181.1 1221.5L1171.1 1221.5L1167.1 1217.3ZM1171.1 1221.5L1171.1 1211.5L1175.1 1209.2L1185.1 1209.2L1185.1 1219.2L1181.1 1221.5ZM1175.1 1209.2L1185.1 1209.2L1188.3 1212.2L1188.3 1222.2L1178.3 1222.2L1175.1 1219.2ZM1178.3 1222.2L1178.3 1212.2L1181.5 1209.2L1191.5 1209.2L1191.5 1219.2L1188.3 1222.2ZM1181.5 1209.2L1191.5 1209.2L1194.7 1213.0L1194.7 1223.0L1184.7 1223.0L1181.5 1219.2ZM1184.7 1223.0L1184.7 1213.0L1187.9 1210.2L1197.9 1210.2L1197.9 1220.2L1194.7 1223.0ZM1187.9 1210.2L1197.9 1210.2L1201.2 1213.3L1201.2 1223.3L1191.2 1223.3L1187.9 1220.2ZM1191.2 1223.3L1191.2 1213.3L1194.4 1209.6L1204.4 1209.6L1204.4 1219.6L1201.2 1223.3ZM1194.4 1209.6L1204.4 1209.6L1208.4 1213.3L1208.4 1223.3L1198.4 1223.3L1194.4 1219.6ZM1198.4 1223.3L1198.4 1213.3L1202.4 1211.5L1212.4 1211.5L1212.4 1221.5L1208.4 1223.3ZM1202.4 1211.5L1212.4 1211.5L1216.4 1215.0L1216.4 1225.0L1206.4 1225.0L1202.4 1221.5ZM1206.4 1225.0L1206.4 1215.0L1210.4 1211.7L1220.4 1211.7L1220.4 1221.7L1216.4 1225.0ZM1210.4 1211.7L1220.4 1211.7L1224.4 1216.4L1224.4 1226.4L1214.4 1226.4L1210.4 1221.7ZM1214.4 1226.4L1214.4 1216.4L1218.4 1215.6L1228.4 1215.6L1228.4 1225.6L1224.4 1226.4ZM1218.4 1215.6L1228.4 1215.6L1232.4 1216.1L1232.4 1226.1L1222.4 1226.1L1218.4 1225.6ZM1222.4 1226.1L1222.4 1216.1L1226.4 1211.8L1236.4 1211.8L1236.4 1221.8L1232.4 1226.1ZM1226.4 1211.8L1236.4 1211.8L1240.4 1212.5L1240.4 1222.5L1230.4 1222.5L1226.4 1221.8ZM1230.4 1222.5L1230.4 1212.5L1234.4 1207.7L1244.4 1207.7L1244.4 1217.7L1240.4 1222.5ZM1234.4 1207.7L1244.4 1207.7L1247.6 1209.9L1247.6 1219.9L1237.6 1219.9L1234.4 1217.7ZM1237.6 1219.9L1237.6 1209.9L1240.8 1205.8L1250.8 1205.8L1250.8 1215.8L1247.6 1219.9ZM1240.8 1205.8L1250.8 1205.8L1254.0 1210.1L1254.0 1220.1L1244.0 1220.1L1240.8 1215.8ZM1244.0 1220.1L1244.0 1210.1L1247.2 1209.1L1257.2 1209.1L1257.2 1219.1L1254.0 1220.1ZM1247.2 1209.1L1257.2 1209.1L1261.2 1212.7L1261.2 1222.7L1251.2 1222.7L1247.2 1219.1ZM1251.2 1222.7L1251.2 1212.7L1255.3 1209.2L1265.3 1209.2L1265.3 1219.2L1261.2 1222.7ZM1255.3 1209.2L1265.3 1209.2L1269.3 1212.8L1269.3 1222.8L1259.3 1222.8L1255.3 1219.2ZM1259.3 1222.8L1259.3 1212.8L1263.3 1210.2L1273.3 1210.2L1273.3 1220.2L1269.3 1222.8ZM1263.3 1210.2L1273.3 1210.2L1277.3 1213.7L1277.3 1223.7L1267.3 1223.7L1263.3 1220.2ZM1267.3 1223.7L1267.3 1213.7L1271.3 1210.3L1281.3 1210.3L1281.3 1220.3L1277.3 1223.7ZM1271.3 1210.3L1281.3 1210.3L1285.3 1213.7L1285.3 1223.7L1275.3 1223.7L1271.3 1220.3ZM1275.3 1223.7L1275.3 1213.7L1279.3 1211.5L1289.3 1211.5L1289.3 1221.5L1285.3 1223.7ZM1279.3 1211.5L1289.3 1211.5L1293.3 1215.9L1293.3 1225.9L1283.3 1225.9L1279.3 1221.5ZM1283.3 1225.9L1283.3 1215.9L1287.3 1214.9L1297.3 1214.9L1297.3 1224.9L1293.3 1225.9ZM1287.3 1214.9L1297.3 1214.9L1301.3 1219.0L1301.3 1229.0L1291.3 1229.0L1287.3 1224.9ZM1291.3 1229.0L1291.3 1219.0L1295.3 1216.5L1305.3 1216.5L1305.3 1226.5L1301.3 1229.0ZM1295.3 1216.5L1305.3 1216.5L1308.5 1218.7L1308.5 1228.7L1298.5 1228.7L1295.3 1226.5ZM1298.5 1228.7L1298.5 1218.7L1301.7 1215.4L1311.7 1215.4L1311.7 1225.4L1308.5 1228.7ZM1301.7 1215.4L1311.7 1215.4L1314.9 1219.9L1314.9 1229.9L1304.9 1229.9L1301.7 1225.4ZM1304.9 1219.9L1314.9 1219.9L1318.1 1221.6L1318.1 1231.6L1308.1 1231.6L1304.9 1229.9ZM1308.1 1221.6L1318.1 1221.6L1322.2 1226.2L1322.2 1236.2L1312.2 1236.2L1308.1 1231.6ZM1312.2 1226.2L1322.2 1226.2L1326.2 1226.2L1326.2 1236.2L1316.2 1236.2L1312.2 1236.2ZM1316.2 1226.2L1326.2 1226.2L1330.2 1229.7L1330.2 1239.7L1320.2 1239.7L1316.2 1236.2ZM1320.2 1239.7L1320.2 1229.7L1324.2 1227.5L1334.2 1227.5L1334.2 1237.5L1330.2 1239.7ZM1324.2 1227.5L1334.2 1227.5L1338.2 1231.1L1338.2 1241.1L1328.2 1241.1L1324.2 1237.5ZM1328.2 1241.1L1328.2 1231.1L1332.2 1228.5L1342.2 1228.5L1342.2 1238.5L1338.2 1241.1ZM1332.2 1228.5L1342.2 1228.5L1345.4 1232.1L1345.4 1242.1L1335.4 1242.1L1332.2 1238.5ZM1335.4 1242.1L1335.4 1232.1L1338.6 1230.2L1348.6 1230.2L1348.6 1240.2L1345.4 1242.1ZM1338.6 1230.2L1348.6 1230.2L1351.8 1234.8L1351.8 1244.8L1341.8 1244.8L1338.6 1240.2ZM1341.8 1234.8L1351.8 1234.8L1355.0 1235.8L1355.0 1245.8L1345.0 1245.8L1341.8 1244.8ZM1345.0 1235.8L1355.0 1235.8L1359.0 1238.3L1359.0 1248.3L1349.0 1248.3L1345.0 1245.8ZM1349.0 1248.3L1349.0 1238.3L1353.0 1235.1L1363.0 1235.1L1363.0 1245.1L1359.0 1248.3ZM1353.0 1235.1L1363.0 1235.1L1366.2 1238.6L1366.2 1248.6L1356.2 1248.6L1353.0 1245.1ZM1356.2 1248.6L1356.2 1238.6L1359.4 1237.1L1369.4 1237.1L1369.4 1247.1L1366.2 1248.6ZM1359.4 1247.1L1359.4 1237.1L1362.6 1236.3L1372.6 1236.3L1372.6 1246.3L1369.4 1247.1ZM1362.6 1246.3L1362.6 1236.3L1365.8 1231.1L1375.8 1231.1L1375.8 1241.1L1372.6 1246.3ZM1365.8 1231.1L1375.8 1231.1L1379.8 1232.7L1379.8 1242.7L1369.8 1242.7L1365.8 1241.1ZM1369.8 1242.7L1369.8 1232.7L1373.8 1228.9L1383.8 1228.9L1383.8 1238.9L1379.8 1242.7ZM1373.8 1228.9L1383.8 1228.9L1385.0 1232.7L1385.0 1242.7L1375.0 1242.7L1373.8 1238.9ZM1375.0 1242.7L1375.0 1232.7L1379.0 1230.9L1389.0 1230.9L1389.0 1240.9L1385.0 1242.7ZM1379.0 1230.9L1389.0 1230.9L1393.0 1234.0L1393.0 1244.0L1383.0 1244.0L1379.0 1240.9ZM1383.0 1244.0L1383.0 1234.0L1387.0 1231.1L1397.0 1231.1L1397.0 1241.1L1393.0 1244.0ZM1387.0 1231.1L1397.0 1231.1L1401.0 1233.7L1401.0 1243.7L1391.0 1243.7L1387.0 1241.1ZM1391.0 1243.7L1391.0 1233.7L1395.8 1231.3L1405.8 1231.3L1405.8 1241.3L1401.0 1243.7ZM1395.8 1231.3L1405.8 1231.3L1410.6 1234.0L1410.6 1244.0L1400.6 1244.0L1395.8 1241.3ZM1400.6 1244.0L1400.6 1234.0L1403.8 1231.3L1413.8 1231.3L1413.8 1241.3L1410.6 1244.0ZM1403.8 1231.3L1413.8 1231.3L1417.1 1234.2L1417.1 1244.2L1407.1 1244.2L1403.8 1241.3ZM1407.1 1244.2L1407.1 1234.2L1410.3 1231.5L1420.3 1231.5L1420.3 1241.5L1417.1 1244.2ZM1410.3 1231.5L1420.3 1231.5L1423.5 1235.1L1423.5 1245.1L1413.5 1245.1L1410.3 1241.5ZM1413.5 1245.1L1413.5 1235.1L1416.7 1232.8L1426.7 1232.8L1426.7 1242.8L1423.5 1245.1ZM1416.7 1232.8L1426.7 1232.8L1429.9 1237.0L1429.9 1247.0L1419.9 1247.0L1416.7 1242.8ZM1419.9 1247.0L1419.9 1237.0L1424.7 1234.9L1434.7 1234.9L1434.7 1244.9L1429.9 1247.0ZM1424.7 1234.9L1434.7 1234.9L1439.5 1238.1L1439.5 1248.1L1429.5 1248.1L1424.7 1244.9ZM1429.5 1248.1L1429.5 1238.1L1434.3 1234.5L1444.3 1234.5L1444.3 1244.5L1439.5 1248.1ZM1434.3 1234.5L1444.3 1234.5L1449.1 1237.0L1449.1 1247.0L1439.1 1247.0L1434.3 1244.5ZM1439.1 1247.0L1439.1 1237.0L1443.1 1236.7L1453.1 1236.7L1453.1 1246.7L1449.1 1247.0ZM1443.1 1236.7L1453.1 1236.7L1457.1 1240.3L1457.1 1250.3L1447.1 1250.3L1443.1 1246.7ZM1447.1 1250.3L1447.1 1240.3L1451.1 1236.9L1461.1 1236.9L1461.1 1246.9L1457.1 1250.3ZM1451.1 1236.9L1461.1 1236.9L1465.1 1240.1L1465.1 1250.1L1455.1 1250.1L1451.1 1246.9ZM1455.1 1250.1L1455.1 1240.1L1459.1 1236.0L1469.1 1236.0L1469.1 1246.0L1465.1 1250.1ZM1459.1 1236.0L1469.1 1236.0L1473.1 1239.0L1473.1 1249.0L1463.1 1249.0L1459.1 1246.0ZM1463.1 1239.0L1473.1 1239.0L1477.2 1239.1L1477.2 1249.1L1467.2 1249.1L1463.1 1249.0ZM1467.2 1239.1L1477.2 1239.1L1481.2 1243.8L1481.2 1253.8L1471.2 1253.8L1467.2 1249.1ZM1471.2 1253.8L1471.2 1243.8L1474.4 1239.6L1484.4 1239.6L1484.4 1249.6L1481.2 1253.8ZM1474.4 1239.6L1484.4 1239.6L1487.6 1241.2L1487.6 1251.2L1477.6 1251.2L1474.4 1249.6ZM1477.6 1251.2L1477.6 1241.2L1480.8 1237.2L1490.8 1237.2L1490.8 1247.2L1487.6 1251.2ZM1480.8 1237.2L1490.8 1237.2L1494.0 1239.3L1494.0 1249.3L1484.0 1249.3L1480.8 1247.2ZM1484.0 1249.3L1484.0 1239.3L1487.2 1235.9L1497.2 1235.9L1497.2 1245.9L1494.0 1249.3ZM1487.2 1235.9L1497.2 1235.9L1502.0 1239.1L1502.0 1249.1L1492.0 1249.1L1487.2 1245.9ZM1492.0 1249.1L1492.0 1239.1L1496.8 1237.3L1506.8 1237.3L1506.8 1247.3L1502.0 1249.1ZM1496.8 1237.3L1506.8 1237.3L1510.8 1241.7L1510.8 1251.7L1500.8 1251.7L1496.8 1247.3ZM1500.8 1251.7L1500.8 1241.7L1504.8 1241.3L1514.8 1241.3L1514.8 1251.3L1510.8 1251.7ZM1504.8 1241.3L1514.8 1241.3L1518.8 1244.6L1518.8 1254.6L1508.8 1254.6L1504.8 1251.3ZM1508.8 1254.6L1508.8 1244.6L1512.8 1240.7L1522.8 1240.7L1522.8 1250.7L1518.8 1254.6ZM1512.8 1250.7L1512.8 1240.7L1516.0 1240.7L1526.0 1240.7L1526.0 1250.7L1522.8 1250.7ZM1516.0 1250.7L1516.0 1240.7L1519.2 1235.1L1529.2 1235.1L1529.2 1245.1L1526.0 1250.7ZM1519.2 1235.1L1529.2 1235.1L1533.2 1239.3L1533.2 1249.3L1523.2 1249.3L1519.2 1245.1ZM1523.2 1249.3L1523.2 1239.3L1527.2 1237.9L1537.2 1237.9L1537.2 1247.9L1533.2 1249.3ZM1527.2 1237.9L1537.2 1237.9L1541.2 1243.6L1541.2 1253.6L1531.2 1253.6L1527.2 1247.9ZM1531.2 1243.6L1541.2 1243.6L1545.3 1244.4L1545.3 1254.4L1535.3 1254.4L1531.2 1253.6ZM1535.3 1244.4L1545.3 1244.4L1548.5 1248.0L1548.5 1258.0L1538.5 1258.0L1535.3 1254.4ZM1538.5 1258.0L1538.5 1248.0L1541.7 1245.0L1551.7 1245.0L1551.7 1255.0L1548.5 1258.0ZM1541.7 1245.0L1551.7 1245.0L1554.9 1247.5L1554.9 1257.5L1544.9 1257.5L1541.7 1255.0ZM1544.9 1257.5L1544.9 1247.5L1548.9 1244.4L1558.9 1244.4L1558.9 1254.4L1554.9 1257.5ZM1548.9 1244.4L1558.9 1244.4L1562.9 1247.1L1562.9 1257.1L1552.9 1257.1L1548.9 1254.4ZM1552.9 1247.1L1562.9 1247.1L1567.2 1247.4L1567.2 1257.4L1557.2 1257.4L1552.9 1257.1ZM1557.2 1247.4L1567.2 1247.4L1571.4 1251.9L1571.4 1261.9L1561.4 1261.9L1557.2 1257.4ZM1561.4 1251.9L1571.4 1251.9L1574.1 1253.0L1574.1 1263.0L1564.1 1263.0L1561.4 1261.9ZM1564.1 1253.0L1574.1 1253.0L1576.8 1258.1L1576.8 1268.1L1566.8 1268.1L1564.1 1263.0ZM1566.8 1268.1L1566.8 1258.1L1570.0 1254.0L1580.0 1254.0L1580.0 1264.0L1576.8 1268.1ZM1570.0 1254.0L1580.0 1254.0L1583.2 1254.5L1583.2 1264.5L1573.2 1264.5L1570.0 1264.0ZM1573.2 1264.5L1573.2 1254.5L1576.9 1250.4L1586.9 1250.4L1586.9 1260.4L1583.2 1264.5ZM1576.9 1250.4L1586.9 1250.4L1590.6 1251.6L1590.6 1261.6L1580.6 1261.6L1576.9 1260.4ZM1580.6 1261.6L1580.6 1251.6L1583.8 1249.2L1593.8 1249.2L1593.8 1259.2L1590.6 1261.6ZM1583.8 1249.2L1593.8 1249.2L1597.1 1252.6L1597.1 1262.6L1587.1 1262.6L1583.8 1259.2ZM1587.1 1252.6L1597.1 1252.6L1600.3 1252.8L1600.3 1262.8L1590.3 1262.8L1587.1 1262.6ZM1590.3 1252.8L1600.3 1252.8L1603.5 1257.8L1603.5 1267.8L1593.5 1267.8L1590.3 1262.8ZM1593.5 1267.8L1593.5 1257.8L1596.7 1256.9L1606.7 1256.9L1606.7 1266.9L1603.5 1267.8ZM1596.7 1256.9L1606.7 1256.9L1609.9 1260.2L1609.9 1270.2L1599.9 1270.2L1596.7 1266.9ZM1599.9 1270.2L1599.9 1260.2L1604.2 1258.3L1614.2 1258.3L1614.2 1268.3L1609.9 1270.2ZM1604.2 1258.3L1614.2 1258.3L1618.4 1261.0L1618.4 1271.0L1608.4 1271.0L1604.2 1268.3ZM1608.4 1271.0L1608.4 1261.0L1612.7 1258.0L1622.7 1258.0L1622.7 1268.0L1618.4 1271.0ZM1612.7 1258.0L1622.7 1258.0L1627.0 1262.0L1627.0 1272.0L1617.0 1272.0L1612.7 1268.0ZM1617.0 1272.0L1617.0 1262.0L1620.7 1257.5L1630.7 1257.5L1630.7 1267.5L1627.0 1272.0ZM1620.7 1257.5L1630.7 1257.5L1634.4 1259.4L1634.4 1269.4L1624.4 1269.4L1620.7 1267.5ZM1624.4 1269.4L1624.4 1259.4L1627.1 1256.6L1637.1 1256.6L1637.1 1266.6L1634.4 1269.4ZM1627.1 1256.6L1637.1 1256.6L1639.8 1259.2L1639.8 1269.2L1629.8 1269.2L1627.1 1266.6ZM1629.8 1259.2L1639.8 1259.2L1642.4 1261.9L1642.4 1271.9L1632.4 1271.9L1629.8 1269.2ZM1632.4 1261.9L1642.4 1261.9L1645.1 1266.9L1645.1 1276.9L1635.1 1276.9L1632.4 1271.9ZM1635.1 1276.9L1635.1 1266.9L1637.8 1263.3L1647.8 1263.3L1647.8 1273.3L1645.1 1276.9ZM1637.8 1263.3L1647.8 1263.3L1650.5 1264.0L1650.5 1274.0L1640.5 1274.0L1637.8 1273.3ZM1640.5 1274.0L1640.5 1264.0L1643.7 1260.8L1653.7 1260.8L1653.7 1270.8L1650.5 1274.0ZM1643.7 1260.8L1653.7 1260.8L1656.9 1262.1L1656.9 1272.1L1646.9 1272.1L1643.7 1270.8ZM1646.9 1272.1L1646.9 1262.1L1650.1 1260.9L1660.1 1260.9L1660.1 1270.9L1656.9 1272.1ZM1650.1 1260.9L1660.1 1260.9L1663.3 1264.9L1663.3 1274.9L1653.3 1274.9L1650.1 1270.9ZM1653.3 1274.9L1653.3 1264.9L1656.5 1262.5L1666.5 1262.5L1666.5 1272.5L1663.3 1274.9ZM1656.5 1262.5L1666.5 1262.5L1669.7 1266.6L1669.7 1276.6L1659.7 1276.6L1656.5 1272.5ZM1659.7 1276.6L1659.7 1266.6L1662.9 1262.9L1672.9 1262.9L1672.9 1272.9L1669.7 1276.6ZM1662.9 1262.9L1672.9 1262.9L1676.1 1265.9L1676.1 1275.9L1666.1 1275.9L1662.9 1272.9ZM1666.1 1275.9L1666.1 1265.9L1669.3 1262.0L1679.3 1262.0L1679.3 1272.0L1676.1 1275.9ZM1669.3 1262.0L1679.3 1262.0L1682.5 1264.9L1682.5 1274.9L1672.5 1274.9L1669.3 1272.0ZM1672.5 1274.9L1672.5 1264.9L1675.7 1261.3L1685.7 1261.3L1685.7 1271.3L1682.5 1274.9ZM1675.7 1261.3L1685.7 1261.3L1688.9 1264.6L1688.9 1274.6L1678.9 1274.6L1675.7 1271.3ZM1678.9 1274.6L1678.9 1264.6L1682.1 1263.2L1692.1 1263.2L1692.1 1273.2L1688.9 1274.6ZM1682.1 1263.2L1692.1 1263.2L1695.3 1267.0L1695.3 1277.0L1685.3 1277.0L1682.1 1273.2ZM1685.3 1277.0L1685.3 1267.0L1688.5 1266.1L1698.5 1266.1L1698.5 1276.1L1695.3 1277.0ZM1688.5 1266.1L1698.5 1266.1L1701.8 1269.5L1701.8 1279.5L1691.8 1279.5L1688.5 1276.1ZM1691.8 1279.5L1691.8 1269.5L1695.0 1265.5L1705.0 1265.5L1705.0 1275.5L1701.8 1279.5ZM1695.0 1265.5L1705.0 1265.5L1708.2 1268.6L1708.2 1278.6L1698.2 1278.6L1695.0 1275.5ZM1698.2 1278.6L1698.2 1268.6L1701.4 1265.8L1711.4 1265.8L1711.4 1275.8L1708.2 1278.6ZM1701.4 1265.8L1711.4 1265.8L1714.6 1268.6L1714.6 1278.6L1704.6 1278.6L1701.4 1275.8ZM1704.6 1278.6L1704.6 1268.6L1707.8 1266.6L1717.8 1266.6L1717.8 1276.6L1714.6 1278.6ZM1707.8 1266.6L1717.8 1266.6L1721.0 1269.4L1721.0 1279.4L1711.0 1279.4L1707.8 1276.6ZM1711.0 1279.4L1711.0 1269.4L1714.2 1266.3L1724.2 1266.3L1724.2 1276.3L1721.0 1279.4ZM1714.2 1266.3L1724.2 1266.3L1727.4 1268.7L1727.4 1278.7L1717.4 1278.7L1714.2 1276.3ZM1717.4 1278.7L1717.4 1268.7L1720.6 1266.6L1730.6 1266.6L1730.6 1276.6L1727.4 1278.7ZM1720.6 1266.6L1730.6 1266.6L1733.8 1270.0L1733.8 1280.0L1723.8 1280.0L1720.6 1276.6ZM1723.8 1280.0L1723.8 1270.0L1727.5 1268.4L1737.5 1268.4L1737.5 1278.4L1733.8 1280.0Z" fill="#dc0505" stroke="none"/>
<line x1="399.0" y1="47.9" x2="399.0" y2="1332" stroke="#000" stroke-width="8" stroke-dasharray="12 5.43"/>
<line x1="756.5" y1="47.9" x2="756.5" y2="1332" stroke="#000" stroke-width="7" stroke-dasharray="12 5.43"/>
<line x1="904.5" y1="47.9" x2="904.5" y2="1332" stroke="#000" stroke-width="7" stroke-dasharray="12 5.43"/>
<line x1="1049.0" y1="47.9" x2="1049.0" y2="1332" stroke="#000" stroke-width="8" stroke-dasharray="12 5.43"/>
</g>
<g shape-rendering="crispEdges" fill="#000">
<rect x="163" y="46" width="1571" height="3"/>
<rect x="163" y="1615" width="1571" height="3"/>
<rect x="163" y="45" width="3" height="1573"/>
<rect x="1731" y="45" width="3" height="1573"/>
<rect x="424" y="49" width="3" height="26"/>
<rect x="424" y="1588" width="3" height="27"/>
<rect x="686" y="49" width="3" height="26"/>
<rect x="686" y="1588" width="3" height="27"/>
<rect x="947" y="49" width="3" height="26"/>
<rect x="947" y="1588" width="3" height="27"/>
<rect x="1208" y="49" width="3" height="26"/>
<rect x="1208" y="1588" width="3" height="27"/>
<rect x="1470" y="49" width="3" height="26"/>
<rect x="1470" y="1588" width="3" height="27"/>
<rect x="159" y="1360" width="1579" height="10"/>
<rect x="159" y="1454" width="1579" height="10"/>
<rect x="159" y="1549" width="1579" height="10"/>
<rect x="399" y="1266" width="9" height="96"/>
<rect x="755" y="1266" width="10" height="96"/>
<rect x="901" y="1266" width="10" height="96"/>
<rect x="1045" y="1266" width="10" height="96"/>
<rect x="483" y="1368" width="9" height="88"/>
<rect x="1011" y="1368" width="10" height="88"/>
<rect x="1153" y="1368" width="10" height="88"/>
<rect x="1310" y="1368" width="10" height="88"/>
<rect x="1543" y="1462" width="10" height="89"/>
</g>
<text transform="translate(165.1,1699.0) scale(0.94,1)" font-size="80px" fill="#000" text-anchor="middle">50</text>
<text transform="translate(426.4,1699.0) scale(0.94,1)" font-size="80px" fill="#000" text-anchor="middle">100</text>
<text transform="translate(687.8,1699.0) scale(0.94,1)" font-size="80px" fill="#000" text-anchor="middle">150</text>
<text transform="translate(949.1,1699.0) scale(0.94,1)" font-size="80px" fill="#000" text-anchor="middle">200</text>
<text transform="translate(1210.4,1699.0) scale(0.94,1)" font-size="80px" fill="#000" text-anchor="middle">250</text>
<text transform="translate(1471.8,1699.0) scale(0.94,1)" font-size="80px" fill="#000" text-anchor="middle">300</text>
<text transform="translate(1733.1,1699.0) scale(0.94,1)" font-size="80px" fill="#000" text-anchor="middle">350</text>
<text font-size="87.5px" fill="#000"><tspan x="599.8" y="1831.0" textLength="279.8" lengthAdjust="spacingAndGlyphs">Raman</tspan> <tspan x="906.7" y="1831.0" textLength="157.3" lengthAdjust="spacingAndGlyphs">shift</tspan> <tspan x="1086.7" y="1831.0" textLength="145.2" lengthAdjust="spacingAndGlyphs">[cm</tspan><tspan x="1228.8" y="1792.8" font-size="61.25px">-1</tspan><tspan x="1284.3" y="1831.0">]</tspan></text>
<text transform="translate(94.2,1177.0) rotate(-90) scale(0.997,1)" font-size="87.5px" fill="#000">Intensity [arb.unit]</text>
<text font-size="62.5px" fill="#000" transform="scale(1,1.03)"><tspan x="1763.1" y="1350.9">SnS</tspan></text>
<text font-size="62.5px" fill="#000" transform="scale(1,1.03)"><tspan x="1762.8" y="1434.8">GeS</tspan></text>
<text font-size="62.5px" fill="#000" transform="scale(1,1.03)"><tspan x="1769.1" y="1531.4">SnS</tspan><tspan x="1881.9" y="1558.4" font-size="39px">2</tspan></text>
<text font-size="62.5px" fill="#0000cc" transform="scale(1,1.03)"><tspan x="1319.0" y="550.5">(Ge</tspan><tspan x="1423.1" y="575.5" font-size="39px">0.42</tspan><tspan x="1499.2" y="550.5">Sn</tspan><tspan x="1573.8" y="575.5" font-size="39px">0.58</tspan><tspan x="1648.4" y="550.5">)S</tspan></text>
<text font-size="62.5px" fill="#dc0505" transform="scale(1,1.03)"><tspan x="1477.2" y="1287.0" textLength="115.2" lengthAdjust="spacingAndGlyphs">SnS</tspan></text>
</svg>
</body></html>
